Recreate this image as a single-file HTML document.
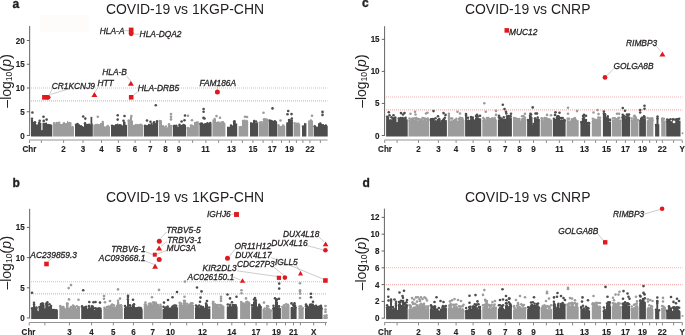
<!DOCTYPE html>
<html><head><meta charset="utf-8"><style>
html,body{margin:0;padding:0;background:#fff;width:685px;height:335px;overflow:hidden;}
svg{display:block;font-family:"Liberation Sans", sans-serif;will-change:transform;}
</style></head><body>
<svg width="685" height="335" viewBox="0 0 685 335">
<rect width="685" height="335" fill="#fff"/>
<rect x="39.7" y="15.2" width="49.3" height="16.4" fill="#fefbfb"/>
<line x1="29.66" y1="26" x2="29.66" y2="135.8" stroke="#5c5c5c" stroke-width="0.95" />
<line x1="26.86" y1="135.5" x2="29.66" y2="135.5" stroke="#5c5c5c" stroke-width="0.95" />
<text transform="translate(24.66,138.5) scale(0.84,1)" font-size="9.6" font-weight="bold" font-style="normal" text-anchor="end" fill="#231f20"  stroke="#231f20" stroke-width="0.15">0</text>
<line x1="26.86" y1="111.75" x2="29.66" y2="111.75" stroke="#5c5c5c" stroke-width="0.95" />
<text transform="translate(24.66,114.75) scale(0.84,1)" font-size="9.6" font-weight="bold" font-style="normal" text-anchor="end" fill="#231f20"  stroke="#231f20" stroke-width="0.15">5</text>
<line x1="26.86" y1="88" x2="29.66" y2="88" stroke="#5c5c5c" stroke-width="0.95" />
<text transform="translate(24.66,91) scale(0.84,1)" font-size="9.6" font-weight="bold" font-style="normal" text-anchor="end" fill="#231f20"  stroke="#231f20" stroke-width="0.15">10</text>
<line x1="26.86" y1="64.25" x2="29.66" y2="64.25" stroke="#5c5c5c" stroke-width="0.95" />
<text transform="translate(24.66,67.25) scale(0.84,1)" font-size="9.6" font-weight="bold" font-style="normal" text-anchor="end" fill="#231f20"  stroke="#231f20" stroke-width="0.15">15</text>
<line x1="26.86" y1="40.5" x2="29.66" y2="40.5" stroke="#5c5c5c" stroke-width="0.95" />
<text transform="translate(24.66,43.5) scale(0.84,1)" font-size="9.6" font-weight="bold" font-style="normal" text-anchor="end" fill="#231f20"  stroke="#231f20" stroke-width="0.15">20</text>
<line x1="29.3" y1="140" x2="327.5" y2="140" stroke="#939393" stroke-width="1.0" />
<line x1="29.5" y1="140.3" x2="29.5" y2="142.9" stroke="#7a7a7a" stroke-width="0.9" />
<line x1="41.4" y1="140.3" x2="41.4" y2="142.9" stroke="#7a7a7a" stroke-width="0.9" />
<line x1="63.6" y1="140.3" x2="63.6" y2="142.9" stroke="#7a7a7a" stroke-width="0.9" />
<line x1="83" y1="140.3" x2="83" y2="142.9" stroke="#7a7a7a" stroke-width="0.9" />
<line x1="101.5" y1="140.3" x2="101.5" y2="142.9" stroke="#7a7a7a" stroke-width="0.9" />
<line x1="118.4" y1="140.3" x2="118.4" y2="142.9" stroke="#7a7a7a" stroke-width="0.9" />
<line x1="135.1" y1="140.3" x2="135.1" y2="142.9" stroke="#7a7a7a" stroke-width="0.9" />
<line x1="150.3" y1="140.3" x2="150.3" y2="142.9" stroke="#7a7a7a" stroke-width="0.9" />
<line x1="165.5" y1="140.3" x2="165.5" y2="142.9" stroke="#7a7a7a" stroke-width="0.9" />
<line x1="179.1" y1="140.3" x2="179.1" y2="142.9" stroke="#7a7a7a" stroke-width="0.9" />
<line x1="192.6" y1="140.3" x2="192.6" y2="142.9" stroke="#7a7a7a" stroke-width="0.9" />
<line x1="205.9" y1="140.3" x2="205.9" y2="142.9" stroke="#7a7a7a" stroke-width="0.9" />
<line x1="218.6" y1="140.3" x2="218.6" y2="142.9" stroke="#7a7a7a" stroke-width="0.9" />
<line x1="231.4" y1="140.3" x2="231.4" y2="142.9" stroke="#7a7a7a" stroke-width="0.9" />
<line x1="242.4" y1="140.3" x2="242.4" y2="142.9" stroke="#7a7a7a" stroke-width="0.9" />
<line x1="252.9" y1="140.3" x2="252.9" y2="142.9" stroke="#7a7a7a" stroke-width="0.9" />
<line x1="263.1" y1="140.3" x2="263.1" y2="142.9" stroke="#7a7a7a" stroke-width="0.9" />
<line x1="272.2" y1="140.3" x2="272.2" y2="142.9" stroke="#7a7a7a" stroke-width="0.9" />
<line x1="281.5" y1="140.3" x2="281.5" y2="142.9" stroke="#7a7a7a" stroke-width="0.9" />
<line x1="289.4" y1="140.3" x2="289.4" y2="142.9" stroke="#7a7a7a" stroke-width="0.9" />
<line x1="296.4" y1="140.3" x2="296.4" y2="142.9" stroke="#7a7a7a" stroke-width="0.9" />
<line x1="302.9" y1="140.3" x2="302.9" y2="142.9" stroke="#7a7a7a" stroke-width="0.9" />
<line x1="309.9" y1="140.3" x2="309.9" y2="142.9" stroke="#7a7a7a" stroke-width="0.9" />
<line x1="320.4" y1="140.3" x2="320.4" y2="142.9" stroke="#7a7a7a" stroke-width="0.9" />
<text transform="translate(63.6,151.6) scale(0.84,1)" font-size="9.6" font-weight="bold" font-style="normal" text-anchor="middle" fill="#231f20"  stroke="#231f20" stroke-width="0.15">2</text>
<text transform="translate(83,151.6) scale(0.84,1)" font-size="9.6" font-weight="bold" font-style="normal" text-anchor="middle" fill="#231f20"  stroke="#231f20" stroke-width="0.15">3</text>
<text transform="translate(101.5,151.6) scale(0.84,1)" font-size="9.6" font-weight="bold" font-style="normal" text-anchor="middle" fill="#231f20"  stroke="#231f20" stroke-width="0.15">4</text>
<text transform="translate(118.4,151.6) scale(0.84,1)" font-size="9.6" font-weight="bold" font-style="normal" text-anchor="middle" fill="#231f20"  stroke="#231f20" stroke-width="0.15">5</text>
<text transform="translate(135.1,151.6) scale(0.84,1)" font-size="9.6" font-weight="bold" font-style="normal" text-anchor="middle" fill="#231f20"  stroke="#231f20" stroke-width="0.15">6</text>
<text transform="translate(150.3,151.6) scale(0.84,1)" font-size="9.6" font-weight="bold" font-style="normal" text-anchor="middle" fill="#231f20"  stroke="#231f20" stroke-width="0.15">7</text>
<text transform="translate(165.5,151.6) scale(0.84,1)" font-size="9.6" font-weight="bold" font-style="normal" text-anchor="middle" fill="#231f20"  stroke="#231f20" stroke-width="0.15">8</text>
<text transform="translate(179.1,151.6) scale(0.84,1)" font-size="9.6" font-weight="bold" font-style="normal" text-anchor="middle" fill="#231f20"  stroke="#231f20" stroke-width="0.15">9</text>
<text transform="translate(205.6,151.6) scale(0.84,1)" font-size="9.6" font-weight="bold" font-style="normal" text-anchor="middle" fill="#231f20"  stroke="#231f20" stroke-width="0.15">11</text>
<text transform="translate(231.4,151.6) scale(0.84,1)" font-size="9.6" font-weight="bold" font-style="normal" text-anchor="middle" fill="#231f20"  stroke="#231f20" stroke-width="0.15">13</text>
<text transform="translate(252.9,151.6) scale(0.84,1)" font-size="9.6" font-weight="bold" font-style="normal" text-anchor="middle" fill="#231f20"  stroke="#231f20" stroke-width="0.15">15</text>
<text transform="translate(272.2,151.6) scale(0.84,1)" font-size="9.6" font-weight="bold" font-style="normal" text-anchor="middle" fill="#231f20"  stroke="#231f20" stroke-width="0.15">17</text>
<text transform="translate(289.4,151.6) scale(0.84,1)" font-size="9.6" font-weight="bold" font-style="normal" text-anchor="middle" fill="#231f20"  stroke="#231f20" stroke-width="0.15">19</text>
<text transform="translate(309.9,151.6) scale(0.84,1)" font-size="9.6" font-weight="bold" font-style="normal" text-anchor="middle" fill="#231f20"  stroke="#231f20" stroke-width="0.15">22</text>
<text transform="translate(22.4,151.6) scale(0.84,1)" font-size="9.6" font-weight="bold" font-style="normal" text-anchor="start" fill="#231f20"  stroke="#231f20" stroke-width="0.15">Chr</text>
<line x1="31" y1="88" x2="327.5" y2="88" stroke="#f2b2b2" stroke-width="1.1" stroke-dasharray="1 1"/>
<line x1="31" y1="100.83" x2="327.5" y2="100.83" stroke="#f2b2b2" stroke-width="1.1" stroke-dasharray="1 1"/>
<text transform="translate(11,80.8) rotate(-90)" text-anchor="middle" font-size="14" fill="#231f20">&#8211;log<tspan font-size="8.5" dy="1">10</tspan><tspan dy="-1" font-size="15">(</tspan><tspan font-style="italic">p</tspan><tspan font-size="15">)</tspan></text>
<text transform="translate(185,13.6) scale(0.906,1)" font-size="15.4" font-weight="normal" font-style="normal" text-anchor="middle" fill="#231f20" >COVID-19 vs 1KGP-CHN</text>
<text transform="translate(12.6,8.1) scale(1,1)" font-size="12" font-weight="bold" font-style="normal" text-anchor="start" fill="#231f20" stroke="#231f20" stroke-width="0.35">a</text>
<path d="M31,136.6 L31,121.79 L31.75,121.69 L32.5,121.99 L33.25,121.64 L34,121.92 L34,122.42 L35,122.23 L36,122.5 L36,125.52 L37,125.76 L38,125.54 L38,122.55 L38.83,122.75 L39.65,123 L40.47,122.57 L41.3,122.63 L41.3,130.08 L41.9,130.27 L42.5,130.05 L42.5,122.74 L43.25,123.09 L44,122.53 L44.75,123.02 L45.5,122.67 L46.25,122.59 L47,122.57 L47,125.19 L47.76,125.49 L48.51,125.11 L49.27,125.35 L50.03,125.38 L50.79,125.22 L51.54,125.33 L52.3,125.04 L52.3,136.6Z" fill="#4d4d4d"/>
<g fill="#4d4d4d"><circle cx="32" cy="121.05" r="1.25"/><circle cx="35" cy="122.23" r="1.25"/><circle cx="37" cy="125.58" r="1.25"/><circle cx="39" cy="122.97" r="1.25"/><circle cx="48" cy="125.02" r="1.25"/><circle cx="49.15" cy="125.13" r="1.25"/><circle cx="50.82" cy="125.57" r="1.25"/><circle cx="48.99" cy="125.88" r="1.25"/></g>
<circle cx="32.4" cy="112.5" r="1.3" fill="#4d4d4d"/>
<circle cx="32" cy="118.8" r="1.3" fill="#4d4d4d"/>
<circle cx="43.5" cy="116.7" r="1.3" fill="#4d4d4d"/>
<circle cx="39.7" cy="120.7" r="1.3" fill="#4d4d4d"/>
<circle cx="46.6" cy="119.6" r="1.3" fill="#4d4d4d"/>
<circle cx="43.7" cy="120.9" r="1.3" fill="#4d4d4d"/>
<path d="M53.1,136.6 L53.1,123.76 L53.93,123.75 L54.75,123.67 L55.58,123.9 L56.4,123.97 L57.23,123.68 L58.05,123.8 L58.88,123.44 L59.7,123.82 L60.52,123.79 L61.35,124 L62.17,123.89 L63,123.57 L63,123.13 L63.8,123.3 L64.6,122.91 L65.4,123.18 L66.2,123 L67,122.97 L67,120.84 L68,121.26 L68,122.98 L69,123.05 L70,123.13 L70,122.42 L70.75,121.95 L71.5,122.17 L71.5,126.93 L72.33,127.13 L73.17,127.09 L74,127.12 L74,136.6Z" fill="#9c9c9c"/>
<g fill="#9c9c9c"><circle cx="54.1" cy="123.2" r="1.25"/><circle cx="56.61" cy="123.03" r="1.25"/><circle cx="57.84" cy="123.53" r="1.25"/><circle cx="59.11" cy="122.76" r="1.25"/><circle cx="58.18" cy="124.24" r="1.25"/><circle cx="64" cy="123.33" r="1.25"/><circle cx="69" cy="122.88" r="1.25"/><circle cx="72.5" cy="126.96" r="1.25"/></g>
<path d="M75,136.6 L75,124.63 L75.83,124.6 L76.67,124.7 L77.5,124.53 L78.33,124.5 L79.17,124.59 L80,124.56 L80,126.82 L80.8,126.62 L81.6,127.12 L82.4,126.97 L83.2,126.69 L84,126.75 L84,123.61 L84.8,123.62 L85.6,123.47 L86.4,123.91 L87.2,124 L88,123.68 L88,124.49 L88.83,124.25 L89.67,124.26 L90.5,124.41 L90.5,116.76 L91.4,117.1 L92.3,116.7 L92.3,123.21 L92.8,123.77 L92.8,136.6Z" fill="#4d4d4d"/>
<g fill="#4d4d4d"><circle cx="76" cy="124.7" r="1.25"/><circle cx="77.54" cy="123.89" r="1.25"/><circle cx="78.68" cy="125.38" r="1.25"/><circle cx="81" cy="126.37" r="1.25"/><circle cx="82.17" cy="127.19" r="1.25"/><circle cx="85" cy="123.28" r="1.25"/><circle cx="89" cy="124.86" r="1.25"/></g>
<circle cx="83.2" cy="116.5" r="1.3" fill="#4d4d4d"/>
<circle cx="85.3" cy="118.6" r="1.3" fill="#4d4d4d"/>
<path d="M93.3,136.6 L93.3,124.81 L94.14,124.71 L94.97,124.52 L95.81,124.52 L96.65,124.67 L97.49,124.66 L98.33,124.92 L99.16,125.07 L100,124.77 L100,122.96 L100.8,122.99 L101.6,122.97 L102.4,122.62 L103.2,122.53 L104,122.54 L104,126.22 L104.75,126.22 L105.5,126.47 L106.25,126.64 L107,126.6 L107.75,126.39 L108.5,126.49 L109.25,126.58 L110,126.15 L110,136.6Z" fill="#9c9c9c"/>
<g fill="#9c9c9c"><circle cx="96.08" cy="125.05" r="1.25"/><circle cx="97.26" cy="125.11" r="1.25"/><circle cx="98.98" cy="125.18" r="1.25"/><circle cx="102.72" cy="122.02" r="1.25"/><circle cx="107.8" cy="126.01" r="1.25"/><circle cx="107.11" cy="127.12" r="1.25"/></g>
<circle cx="97.8" cy="116.7" r="1.3" fill="#9c9c9c"/>
<path d="M111,136.6 L111,126.36 L111.8,126.62 L112.6,126.6 L113.4,126.23 L114.2,126.25 L115,126.28 L115,125.14 L116,125.35 L117,125.16 L117,123.65 L117.75,123.48 L118.5,123.95 L118.5,125.21 L119.25,125.27 L120,125.35 L120.75,125.54 L121.5,125.25 L122.25,125.55 L123,125.3 L123,121.72 L123.83,121.71 L124.67,121.41 L125.5,121.66 L125.5,124.81 L126.25,124.7 L127,125.18 L127,136.6Z" fill="#4d4d4d"/>
<g fill="#4d4d4d"><circle cx="112" cy="125.73" r="1.25"/><circle cx="113.73" cy="126.34" r="1.25"/><circle cx="116" cy="125.24" r="1.25"/><circle cx="119.5" cy="125.25" r="1.25"/><circle cx="120.78" cy="125.59" r="1.25"/></g>
<circle cx="117.7" cy="115.2" r="1.3" fill="#4d4d4d"/>
<circle cx="117.7" cy="119.6" r="1.3" fill="#4d4d4d"/>
<circle cx="124.5" cy="116" r="1.3" fill="#4d4d4d"/>
<circle cx="123.5" cy="120.7" r="1.3" fill="#4d4d4d"/>
<path d="M127.7,136.6 L127.7,120.17 L128.47,120.1 L129.23,120.11 L130,120.22 L130,117.97 L131,118.02 L132,117.99 L132,120.76 L133,120.62 L133,125.53 L133.79,125.57 L134.58,125.16 L135.38,125.34 L136.17,125.57 L136.96,125.5 L137.75,125.08 L138.55,125.07 L139.34,125.27 L140.13,125.04 L140.92,125.14 L141.72,125.04 L142.51,125.4 L143.3,125.47 L143.3,136.6Z" fill="#9c9c9c"/>
<g fill="#9c9c9c"><circle cx="128.7" cy="120.59" r="1.25"/><circle cx="131" cy="118.11" r="1.25"/><circle cx="134" cy="125.9" r="1.25"/><circle cx="135.95" cy="124.99" r="1.25"/><circle cx="137.94" cy="125.68" r="1.25"/><circle cx="139.37" cy="125.17" r="1.25"/><circle cx="140.57" cy="124.86" r="1.25"/><circle cx="141.59" cy="125.24" r="1.25"/><circle cx="136.71" cy="125.84" r="1.25"/><circle cx="138.25" cy="125.3" r="1.25"/></g>
<circle cx="131.4" cy="116" r="1.3" fill="#9c9c9c"/>
<path d="M144,136.6 L144,125.59 L144.8,125.47 L145.6,125.58 L146.4,125.06 L147.2,125.16 L148,125.02 L148,124.97 L148.83,124.66 L149.67,124.58 L150.5,124.75 L151.33,125.05 L152.17,124.99 L153,124.66 L153,122.79 L153.75,123.25 L154.5,123.04 L155.25,123.12 L156,122.75 L156,121.43 L156.7,121.81 L157.4,121.66 L158.1,121.44 L158.1,136.6Z" fill="#4d4d4d"/>
<g fill="#4d4d4d"><circle cx="145" cy="125.85" r="1.25"/><circle cx="149" cy="125.23" r="1.25"/><circle cx="151.61" cy="124.06" r="1.25"/><circle cx="149.23" cy="124.95" r="1.25"/><circle cx="154" cy="122.13" r="1.25"/><circle cx="157" cy="121.24" r="1.25"/></g>
<circle cx="147" cy="120.5" r="1.3" fill="#4d4d4d"/>
<circle cx="150.5" cy="121.7" r="1.3" fill="#4d4d4d"/>
<circle cx="155.8" cy="105.2" r="1.3" fill="#4d4d4d"/>
<path d="M158.9,136.6 L158.9,120.6 L159.68,120.41 L160.45,120.51 L161.22,120.31 L162,120.45 L162,126.31 L162.75,126.74 L163.5,126.63 L164.25,126.41 L165,126.58 L165,127.46 L165.75,126.96 L166.5,127.39 L167.25,127.16 L168,127.2 L168,125 L168.84,124.74 L169.68,124.8 L170.52,124.91 L171.36,125.09 L172.2,124.71 L172.2,136.6Z" fill="#9c9c9c"/>
<g fill="#9c9c9c"><circle cx="159.9" cy="120.98" r="1.25"/><circle cx="163" cy="126.3" r="1.25"/><circle cx="166" cy="126.46" r="1.25"/><circle cx="169" cy="124.26" r="1.25"/></g>
<circle cx="171" cy="114.1" r="1.3" fill="#9c9c9c"/>
<circle cx="171" cy="116.7" r="1.3" fill="#9c9c9c"/>
<circle cx="171" cy="119.4" r="1.3" fill="#9c9c9c"/>
<path d="M172.9,136.6 L172.9,126.47 L173.7,126.45 L174.5,126.48 L175.3,126.58 L176.1,126.39 L176.9,126.57 L177.7,126.46 L178.5,126.88 L178.5,125.08 L179.33,124.83 L180.17,124.65 L181,125.08 L181.83,124.69 L182.67,124.71 L183.5,124.5 L184.33,124.73 L185.17,124.78 L186,124.8 L186,136.6Z" fill="#4d4d4d"/>
<g fill="#4d4d4d"><circle cx="173.9" cy="125.97" r="1.25"/><circle cx="174.9" cy="126.07" r="1.25"/><circle cx="176.3" cy="125.72" r="1.25"/><circle cx="174.67" cy="127.12" r="1.25"/><circle cx="179.5" cy="124.7" r="1.25"/><circle cx="183.7" cy="125.01" r="1.25"/><circle cx="183.59" cy="125.45" r="1.25"/></g>
<circle cx="185" cy="115.5" r="1.3" fill="#4d4d4d"/>
<circle cx="184.5" cy="120.3" r="1.3" fill="#4d4d4d"/>
<circle cx="181.6" cy="121.5" r="1.3" fill="#4d4d4d"/>
<circle cx="188" cy="115.8" r="1.3" fill="#9c9c9c"/>
<path d="M186.7,136.6 L186.7,127.58 L187.52,127.81 L188.35,127.8 L189.18,128 L190,127.98 L190,125.7 L190.8,125.55 L191.6,125.74 L192.4,125.61 L193.2,125.62 L194,125.34 L194,123.22 L195,123.28 L196,123.42 L196,120.96 L196.7,121.4 L197.4,121.24 L198.1,121.28 L198.8,121.28 L198.8,136.6Z" fill="#9c9c9c"/>
<g fill="#9c9c9c"><circle cx="187.7" cy="127.94" r="1.25"/><circle cx="188.7" cy="128.13" r="1.25"/><circle cx="191" cy="125.41" r="1.25"/><circle cx="192.07" cy="125.73" r="1.25"/><circle cx="195" cy="122.97" r="1.25"/></g>
<circle cx="192" cy="120.3" r="1.3" fill="#9c9c9c"/>
<path d="M199.5,136.6 L199.5,123.53 L200.31,123.59 L201.11,123.71 L201.92,123.76 L202.73,123.67 L203.53,123.69 L204.34,123.35 L205.15,123.39 L205.95,123.45 L206.76,123.75 L207.57,123.48 L208.37,123.64 L209.18,123.31 L209.99,123.34 L210.79,123.46 L211.6,123.7 L211.6,136.6Z" fill="#4d4d4d"/>
<g fill="#4d4d4d"><circle cx="200.5" cy="123.76" r="1.25"/><circle cx="201.79" cy="123.48" r="1.25"/><circle cx="207.44" cy="123.37" r="1.25"/><circle cx="208.65" cy="124.16" r="1.25"/><circle cx="210.23" cy="122.88" r="1.25"/><circle cx="201.75" cy="124.26" r="1.25"/><circle cx="205.64" cy="124.29" r="1.25"/></g>
<circle cx="203.6" cy="109" r="1.3" fill="#4d4d4d"/>
<circle cx="203.6" cy="111.7" r="1.3" fill="#4d4d4d"/>
<circle cx="203.5" cy="117.9" r="1.3" fill="#4d4d4d"/>
<circle cx="204.5" cy="118.5" r="1.3" fill="#4d4d4d"/>
<path d="M212.4,136.6 L212.4,119.52 L213.3,119.24 L214.2,119.64 L215.1,119.39 L216,119.11 L216,122.7 L216.78,123 L217.57,122.97 L218.35,122.88 L219.13,122.78 L219.92,122.91 L220.7,122.89 L221.48,123.2 L222.27,122.7 L223.05,123.15 L223.83,123.2 L224.62,122.77 L225.4,123.26 L225.4,136.6Z" fill="#9c9c9c"/>
<g fill="#9c9c9c"><circle cx="214.69" cy="119.05" r="1.25"/><circle cx="217" cy="122.99" r="1.25"/><circle cx="218.43" cy="122.49" r="1.25"/><circle cx="219.53" cy="123.39" r="1.25"/><circle cx="221.47" cy="122.45" r="1.25"/><circle cx="222.98" cy="122.35" r="1.25"/><circle cx="223.64" cy="123.65" r="1.25"/></g>
<circle cx="216.5" cy="116.1" r="1.3" fill="#9c9c9c"/>
<circle cx="220" cy="117.7" r="1.3" fill="#9c9c9c"/>
<path d="M227,136.6 L227,126.68 L227.75,126.85 L228.5,126.86 L229.25,126.63 L230,126.73 L230,125.13 L230.75,125.54 L231.5,125.37 L232.25,125.55 L233,125.49 L233,122.27 L233.75,122.13 L234.5,122.66 L235.25,122.18 L236,122.38 L236,123.51 L237.2,123.48 L237.2,136.6Z" fill="#4d4d4d"/>
<g fill="#4d4d4d"><circle cx="231" cy="125.5" r="1.25"/><circle cx="234" cy="122.08" r="1.25"/></g>
<circle cx="234.5" cy="121.3" r="1.3" fill="#4d4d4d"/>
<path d="M238.6,136.6 L238.6,125.82 L239.45,126.24 L240.3,126 L241.15,125.83 L242,126.24 L242,121.5 L242.78,121.17 L243.55,120.98 L244.32,121.02 L245.1,120.95 L245.88,121.11 L246.65,120.95 L247.42,121.04 L248.2,121.06 L248.2,136.6Z" fill="#9c9c9c"/>
<g fill="#9c9c9c"><circle cx="243" cy="120.91" r="1.25"/><circle cx="244.52" cy="120.85" r="1.25"/><circle cx="246.71" cy="121.06" r="1.25"/><circle cx="243.84" cy="121.47" r="1.25"/></g>
<circle cx="245" cy="116.7" r="1.3" fill="#9c9c9c"/>
<circle cx="247" cy="117" r="1.3" fill="#9c9c9c"/>
<path d="M250,136.6 L250,122.25 L250.75,122.34 L251.5,122.37 L252.25,122.67 L253,122.61 L253,120.22 L254,119.71 L255,119.72 L255,122.53 L255.8,122.64 L256.6,122.38 L257.4,122.45 L258.2,122.1 L258.2,136.6Z" fill="#4d4d4d"/>
<g fill="#4d4d4d"><circle cx="256" cy="121.62" r="1.25"/></g>
<path d="M259,136.6 L259,123.11 L259.8,123.26 L260.6,123.13 L261.4,123.09 L262.2,123.16 L263,122.97 L263,119.23 L263.76,118.92 L264.51,119.37 L265.27,119.04 L266.03,119.45 L266.79,119.29 L267.54,119.08 L268.3,118.98 L268.3,136.6Z" fill="#9c9c9c"/>
<g fill="#9c9c9c"><circle cx="260" cy="122.45" r="1.25"/><circle cx="261.7" cy="122.23" r="1.25"/><circle cx="264" cy="119.18" r="1.25"/><circle cx="265.22" cy="119.21" r="1.25"/><circle cx="267.01" cy="119.64" r="1.25"/></g>
<circle cx="263.5" cy="112.8" r="1.3" fill="#9c9c9c"/>
<path d="M268.7,136.6 L268.7,121.04 L269.46,121.05 L270.23,121.48 L270.99,121.32 L271.75,121.08 L272.52,120.91 L273.28,121.2 L274.05,121.3 L274.81,121.15 L275.57,121.05 L276.34,121.3 L277.1,121.46 L277.1,136.6Z" fill="#4d4d4d"/>
<g fill="#4d4d4d"><circle cx="269.7" cy="120.61" r="1.25"/><circle cx="271.04" cy="120.92" r="1.25"/><circle cx="272.24" cy="121.53" r="1.25"/><circle cx="275.05" cy="121.56" r="1.25"/><circle cx="274.63" cy="121.49" r="1.25"/></g>
<circle cx="272.5" cy="108.4" r="1.3" fill="#4d4d4d"/>
<path d="M277.4,136.6 L277.4,126.27 L278.19,126 L278.98,125.81 L279.77,125.83 L280.56,125.95 L281.35,126.1 L282.14,126.27 L282.93,125.79 L283.72,125.94 L284.51,125.83 L285.3,126.28 L285.3,136.6Z" fill="#9c9c9c"/>
<g fill="#9c9c9c"><circle cx="278.4" cy="125.28" r="1.25"/><circle cx="283.28" cy="125.58" r="1.25"/><circle cx="282.86" cy="125.93" r="1.25"/></g>
<circle cx="280.5" cy="120.5" r="1.3" fill="#9c9c9c"/>
<path d="M286.2,136.6 L286.2,122.5 L287.1,122.33 L288,122.32 L288,119.3 L288.82,119.2 L289.63,119.1 L290.45,119.27 L291.27,119.31 L292.08,119.67 L292.9,119.17 L292.9,136.6Z" fill="#4d4d4d"/>
<g fill="#4d4d4d"><circle cx="289" cy="119.99" r="1.25"/><circle cx="291.79" cy="118.53" r="1.25"/></g>
<circle cx="288.2" cy="111" r="1.3" fill="#4d4d4d"/>
<circle cx="287.5" cy="114.3" r="1.3" fill="#4d4d4d"/>
<circle cx="291.5" cy="114.1" r="1.3" fill="#4d4d4d"/>
<path d="M293.6,136.6 L293.6,124.45 L294.43,124.02 L295.25,124.12 L296.07,124.44 L296.9,123.92 L297.73,124.15 L298.55,124.39 L299.38,124.36 L300.2,123.92 L300.2,136.6Z" fill="#9c9c9c"/>
<g fill="#9c9c9c"><circle cx="294.6" cy="123.31" r="1.25"/><circle cx="296.52" cy="123.66" r="1.25"/><circle cx="298.42" cy="123.79" r="1.25"/><circle cx="297.47" cy="124.46" r="1.25"/></g>
<path d="M302,136.6 L302,126.13 L303,125.89 L304,125.87 L304,122.7 L304.8,123.15 L305.6,123.25 L306.4,123.08 L306.4,136.6Z" fill="#4d4d4d"/>
<g fill="#4d4d4d"><circle cx="303" cy="126.56" r="1.25"/></g>
<path d="M308.1,136.6 L308.1,120.53 L308.92,120.45 L309.73,120.56 L310.55,120.6 L311.37,120.86 L312.18,120.41 L313,120.78 L313,136.6Z" fill="#9c9c9c"/>
<g fill="#9c9c9c"><circle cx="310.87" cy="120.62" r="1.25"/></g>
<circle cx="312" cy="115.8" r="1.3" fill="#9c9c9c"/>
<path d="M313.7,136.6 L313.7,126.52 L314.56,126.77 L315.42,126.35 L316.28,126.42 L317.14,126.75 L318,126.45 L318,123.34 L318.8,123.32 L319.6,123.63 L320.4,123.5 L321.2,123.89 L322,123.83 L322,126.29 L322.81,125.86 L323.63,125.75 L324.44,125.76 L325.26,126 L326.07,126.13 L326.89,125.97 L327.7,125.84 L327.7,136.6Z" fill="#4d4d4d"/>
<g fill="#4d4d4d"><circle cx="314.7" cy="126.32" r="1.25"/><circle cx="320.29" cy="123.56" r="1.25"/><circle cx="323" cy="125.37" r="1.25"/><circle cx="325.82" cy="125.57" r="1.25"/><circle cx="324.88" cy="126.23" r="1.25"/></g>
<circle cx="322.5" cy="111.9" r="1.3" fill="#4d4d4d"/>
<circle cx="322.5" cy="114.9" r="1.3" fill="#4d4d4d"/>
<rect x="128.8" y="27.6" width="4.7" height="6.2" fill="#e1191f"/>
<circle cx="131.15" cy="33.7" r="2.45" fill="#e1191f"/>
<line x1="124.6" y1="30.8" x2="129" y2="30.6" stroke="#999" stroke-width="0.5" />
<line x1="133.5" y1="34.2" x2="139.6" y2="34.2" stroke="#999" stroke-width="0.5" />
<rect x="42.1" y="95" width="6.2" height="4.7" fill="#e1191f"/>
<circle cx="48.2" cy="97.35" r="2.35" fill="#e1191f"/>
<line x1="49.2" y1="94.9" x2="52.3" y2="88.9" stroke="#999" stroke-width="0.5" />
<line x1="50.6" y1="94.4" x2="70" y2="88.6" stroke="#999" stroke-width="0.5" />
<path d="M91.4,97 L97.4,97 L94.4,92Z" fill="#e1191f"/>
<line x1="95" y1="92" x2="98.6" y2="86.4" stroke="#999" stroke-width="0.5" />
<path d="M127.9,85.7 L133.9,85.7 L130.9,80.7Z" fill="#e1191f"/>
<line x1="126.3" y1="75.6" x2="130.6" y2="80.9" stroke="#999" stroke-width="0.5" />
<rect x="128.9" y="95" width="4.6" height="4.6" fill="#e1191f"/>
<line x1="133.5" y1="95" x2="139.6" y2="90.6" stroke="#999" stroke-width="0.5" />
<circle cx="217.4" cy="91.9" r="2.5" fill="#e1191f"/>
<line x1="217.4" y1="89.4" x2="217.4" y2="86.6" stroke="#999" stroke-width="0.5" />
<text transform="translate(99.8,34.4) scale(0.875,1)" font-size="9.6" font-weight="normal" font-style="italic" text-anchor="start" fill="#231f20"  stroke="#231f20" stroke-width="0.3">HLA-A</text>
<text transform="translate(139.6,37) scale(0.875,1)" font-size="9.6" font-weight="normal" font-style="italic" text-anchor="start" fill="#231f20"  stroke="#231f20" stroke-width="0.3">HLA-DQA2</text>
<text transform="translate(51.7,89.1) scale(0.875,1)" font-size="9.6" font-weight="normal" font-style="italic" text-anchor="start" fill="#231f20"  stroke="#231f20" stroke-width="0.3">CR1KCNJ9</text>
<text transform="translate(97.4,86.2) scale(0.875,1)" font-size="9.6" font-weight="normal" font-style="italic" text-anchor="start" fill="#231f20"  stroke="#231f20" stroke-width="0.3">HTT</text>
<text transform="translate(102.2,75.4) scale(0.875,1)" font-size="9.6" font-weight="normal" font-style="italic" text-anchor="start" fill="#231f20"  stroke="#231f20" stroke-width="0.3">HLA-B</text>
<text transform="translate(137.8,90.6) scale(0.875,1)" font-size="9.6" font-weight="normal" font-style="italic" text-anchor="start" fill="#231f20"  stroke="#231f20" stroke-width="0.3">HLA-DRB5</text>
<text transform="translate(199.4,86.3) scale(0.875,1)" font-size="9.6" font-weight="normal" font-style="italic" text-anchor="start" fill="#231f20"  stroke="#231f20" stroke-width="0.3">FAM186A</text>
<line x1="29.66" y1="208.8" x2="29.66" y2="318.3" stroke="#5c5c5c" stroke-width="0.95" />
<line x1="26.86" y1="318" x2="29.66" y2="318" stroke="#5c5c5c" stroke-width="0.95" />
<text transform="translate(24.66,321) scale(0.84,1)" font-size="9.6" font-weight="bold" font-style="normal" text-anchor="end" fill="#231f20"  stroke="#231f20" stroke-width="0.15">0</text>
<line x1="26.86" y1="287.8" x2="29.66" y2="287.8" stroke="#5c5c5c" stroke-width="0.95" />
<text transform="translate(24.66,290.8) scale(0.84,1)" font-size="9.6" font-weight="bold" font-style="normal" text-anchor="end" fill="#231f20"  stroke="#231f20" stroke-width="0.15">5</text>
<line x1="26.86" y1="257.6" x2="29.66" y2="257.6" stroke="#5c5c5c" stroke-width="0.95" />
<text transform="translate(24.66,260.6) scale(0.84,1)" font-size="9.6" font-weight="bold" font-style="normal" text-anchor="end" fill="#231f20"  stroke="#231f20" stroke-width="0.15">10</text>
<line x1="26.86" y1="227.4" x2="29.66" y2="227.4" stroke="#5c5c5c" stroke-width="0.95" />
<text transform="translate(24.66,230.4) scale(0.84,1)" font-size="9.6" font-weight="bold" font-style="normal" text-anchor="end" fill="#231f20"  stroke="#231f20" stroke-width="0.15">15</text>
<line x1="29.3" y1="322.5" x2="327" y2="322.5" stroke="#939393" stroke-width="1.0" />
<line x1="29.2" y1="322.8" x2="29.2" y2="325.4" stroke="#7a7a7a" stroke-width="0.9" />
<line x1="44.9" y1="322.8" x2="44.9" y2="325.4" stroke="#7a7a7a" stroke-width="0.9" />
<line x1="69.4" y1="322.8" x2="69.4" y2="325.4" stroke="#7a7a7a" stroke-width="0.9" />
<line x1="91.6" y1="322.8" x2="91.6" y2="325.4" stroke="#7a7a7a" stroke-width="0.9" />
<line x1="113.3" y1="322.8" x2="113.3" y2="325.4" stroke="#7a7a7a" stroke-width="0.9" />
<line x1="133.4" y1="322.8" x2="133.4" y2="325.4" stroke="#7a7a7a" stroke-width="0.9" />
<line x1="152.7" y1="322.8" x2="152.7" y2="325.4" stroke="#7a7a7a" stroke-width="0.9" />
<line x1="170.4" y1="322.8" x2="170.4" y2="325.4" stroke="#7a7a7a" stroke-width="0.9" />
<line x1="186.7" y1="322.8" x2="186.7" y2="325.4" stroke="#7a7a7a" stroke-width="0.9" />
<line x1="202.6" y1="322.8" x2="202.6" y2="325.4" stroke="#7a7a7a" stroke-width="0.9" />
<line x1="217.6" y1="322.8" x2="217.6" y2="325.4" stroke="#7a7a7a" stroke-width="0.9" />
<line x1="231.8" y1="322.8" x2="231.8" y2="325.4" stroke="#7a7a7a" stroke-width="0.9" />
<line x1="244.7" y1="322.8" x2="244.7" y2="325.4" stroke="#7a7a7a" stroke-width="0.9" />
<line x1="256.1" y1="322.8" x2="256.1" y2="325.4" stroke="#7a7a7a" stroke-width="0.9" />
<line x1="267" y1="322.8" x2="267" y2="325.4" stroke="#7a7a7a" stroke-width="0.9" />
<line x1="276.5" y1="322.8" x2="276.5" y2="325.4" stroke="#7a7a7a" stroke-width="0.9" />
<line x1="285.5" y1="322.8" x2="285.5" y2="325.4" stroke="#7a7a7a" stroke-width="0.9" />
<line x1="293.5" y1="322.8" x2="293.5" y2="325.4" stroke="#7a7a7a" stroke-width="0.9" />
<line x1="300.4" y1="322.8" x2="300.4" y2="325.4" stroke="#7a7a7a" stroke-width="0.9" />
<line x1="313.7" y1="322.8" x2="313.7" y2="325.4" stroke="#7a7a7a" stroke-width="0.9" />
<line x1="325.5" y1="322.8" x2="325.5" y2="325.4" stroke="#7a7a7a" stroke-width="0.9" />
<text transform="translate(69.4,335) scale(0.84,1)" font-size="9.6" font-weight="bold" font-style="normal" text-anchor="middle" fill="#231f20"  stroke="#231f20" stroke-width="0.15">3</text>
<text transform="translate(91.6,335) scale(0.84,1)" font-size="9.6" font-weight="bold" font-style="normal" text-anchor="middle" fill="#231f20"  stroke="#231f20" stroke-width="0.15">4</text>
<text transform="translate(113.3,335) scale(0.84,1)" font-size="9.6" font-weight="bold" font-style="normal" text-anchor="middle" fill="#231f20"  stroke="#231f20" stroke-width="0.15">5</text>
<text transform="translate(133.4,335) scale(0.84,1)" font-size="9.6" font-weight="bold" font-style="normal" text-anchor="middle" fill="#231f20"  stroke="#231f20" stroke-width="0.15">6</text>
<text transform="translate(152.7,335) scale(0.84,1)" font-size="9.6" font-weight="bold" font-style="normal" text-anchor="middle" fill="#231f20"  stroke="#231f20" stroke-width="0.15">7</text>
<text transform="translate(170.4,335) scale(0.84,1)" font-size="9.6" font-weight="bold" font-style="normal" text-anchor="middle" fill="#231f20"  stroke="#231f20" stroke-width="0.15">10</text>
<text transform="translate(202.6,335) scale(0.84,1)" font-size="9.6" font-weight="bold" font-style="normal" text-anchor="middle" fill="#231f20"  stroke="#231f20" stroke-width="0.15">12</text>
<text transform="translate(231.8,335) scale(0.84,1)" font-size="9.6" font-weight="bold" font-style="normal" text-anchor="middle" fill="#231f20"  stroke="#231f20" stroke-width="0.15">14</text>
<text transform="translate(256.1,335) scale(0.84,1)" font-size="9.6" font-weight="bold" font-style="normal" text-anchor="middle" fill="#231f20"  stroke="#231f20" stroke-width="0.15">17</text>
<text transform="translate(276.5,335) scale(0.84,1)" font-size="9.6" font-weight="bold" font-style="normal" text-anchor="middle" fill="#231f20"  stroke="#231f20" stroke-width="0.15">19</text>
<text transform="translate(293.5,335) scale(0.84,1)" font-size="9.6" font-weight="bold" font-style="normal" text-anchor="middle" fill="#231f20"  stroke="#231f20" stroke-width="0.15">21</text>
<text transform="translate(313.7,335) scale(0.84,1)" font-size="9.6" font-weight="bold" font-style="normal" text-anchor="middle" fill="#231f20"  stroke="#231f20" stroke-width="0.15">X</text>
<text transform="translate(21.6,335) scale(0.84,1)" font-size="9.6" font-weight="bold" font-style="normal" text-anchor="start" fill="#231f20"  stroke="#231f20" stroke-width="0.15">Chr</text>
<line x1="31" y1="281.76" x2="327" y2="281.76" stroke="#f2b2b2" stroke-width="1.1" stroke-dasharray="1 1"/>
<line x1="31" y1="293.84" x2="327" y2="293.84" stroke="#f2b2b2" stroke-width="1.1" stroke-dasharray="1 1"/>
<text transform="translate(11,262.7) rotate(-90)" text-anchor="middle" font-size="14" fill="#231f20">&#8211;log<tspan font-size="8.5" dy="1">10</tspan><tspan dy="-1" font-size="15">(</tspan><tspan font-style="italic">p</tspan><tspan font-size="15">)</tspan></text>
<text transform="translate(185,202.1) scale(0.906,1)" font-size="15.4" font-weight="normal" font-style="normal" text-anchor="middle" fill="#231f20" >COVID-19 vs 1KGP-CHN</text>
<text transform="translate(12.6,187.2) scale(1,1)" font-size="12" font-weight="bold" font-style="normal" text-anchor="start" fill="#231f20" stroke="#231f20" stroke-width="0.35">b</text>
<path d="M31.2,319.1 L31.2,308.19 L32.1,308.09 L33,308.29 L33,304.76 L33.73,304.98 L34.47,305.19 L35.2,305.2 L35.2,308.05 L35.97,307.52 L36.73,307.68 L37.5,307.57 L37.5,310.81 L38.6,311.28 L38.6,306.55 L39.3,306.76 L40,306.42 L40,305.02 L40.77,304.77 L41.53,304.66 L42.3,304.97 L43.07,305.07 L43.83,304.56 L44.6,304.86 L44.6,308.57 L45.3,308.33 L45.3,303.72 L46.1,303.58 L46.9,303.62 L47.7,303.65 L48.5,303.86 L48.5,306.69 L49.38,306.42 L50.25,306.31 L51.12,306.5 L52,306.71 L52,310.71 L52.84,310.79 L53.69,310.72 L54.53,311.08 L55.37,310.93 L56.21,310.64 L57.06,310.66 L57.9,310.84 L57.9,319.1Z" fill="#4d4d4d"/>
<g fill="#4d4d4d"><circle cx="32.1" cy="308.25" r="1.25"/><circle cx="34" cy="302.7" r="1.25"/><circle cx="34.06" cy="304.58" r="1.25"/><circle cx="36.39" cy="307.54" r="1.25"/><circle cx="39.48" cy="307.07" r="1.25"/><circle cx="41" cy="303.94" r="1.25"/><circle cx="42.2" cy="303.51" r="1.25"/><circle cx="43.2" cy="303.79" r="1.25"/><circle cx="42.03" cy="305.4" r="1.25"/><circle cx="42.19" cy="304.06" r="1.25"/><circle cx="40.92" cy="304.91" r="1.25"/><circle cx="47.39" cy="302.35" r="1.25"/><circle cx="46.39" cy="303.38" r="1.25"/><circle cx="46.93" cy="304.46" r="1.25"/><circle cx="49.5" cy="304.32" r="1.25"/><circle cx="51.07" cy="305.96" r="1.25"/><circle cx="49.6" cy="307.28" r="1.25"/><circle cx="53" cy="310.01" r="1.25"/><circle cx="54.05" cy="309.93" r="1.25"/><circle cx="56.14" cy="310.33" r="1.25"/><circle cx="54.55" cy="311.45" r="1.25"/><circle cx="56.32" cy="310.22" r="1.25"/><circle cx="53.78" cy="310.73" r="1.25"/></g>
<circle cx="32" cy="292.8" r="1.3" fill="#4d4d4d"/>
<path d="M59.3,319.1 L59.3,306.81 L60.15,306.73 L61,306.57 L61,308.55 L61.83,308.83 L62.67,308.94 L63.5,308.42 L64.33,308.74 L65.17,308.85 L66,308.42 L66,303.2 L66.83,302.77 L67.67,303.06 L68.5,303.03 L68.5,308.18 L69.38,307.98 L70.25,308.05 L71.12,308.15 L72,308.06 L72,307.6 L72.8,307.47 L73.6,307.46 L74.4,307.21 L75.2,307.57 L76,307.49 L76,307.94 L76.8,308.26 L77.6,308.27 L78.4,308.07 L79.2,307.91 L80,308.08 L80,319.1Z" fill="#9c9c9c"/>
<g fill="#9c9c9c"><circle cx="60.17" cy="305.95" r="1.25"/><circle cx="62" cy="306.94" r="1.25"/><circle cx="63.44" cy="307.07" r="1.25"/><circle cx="62.14" cy="309.09" r="1.25"/><circle cx="64.4" cy="308.74" r="1.25"/><circle cx="62.05" cy="308.72" r="1.25"/><circle cx="63.1" cy="309.39" r="1.25"/><circle cx="67.42" cy="303.51" r="1.25"/><circle cx="67.02" cy="303.73" r="1.25"/><circle cx="69.66" cy="308.57" r="1.25"/><circle cx="71" cy="306.99" r="1.25"/><circle cx="73" cy="305.61" r="1.25"/><circle cx="74.16" cy="306.48" r="1.25"/><circle cx="73.2" cy="307.52" r="1.25"/><circle cx="74.94" cy="306.89" r="1.25"/><circle cx="73.47" cy="307.53" r="1.25"/><circle cx="77" cy="306.16" r="1.25"/><circle cx="78.89" cy="307.38" r="1.25"/><circle cx="78.64" cy="307.2" r="1.25"/><circle cx="78.07" cy="308.34" r="1.25"/></g>
<circle cx="69" cy="299.4" r="1.3" fill="#9c9c9c"/>
<circle cx="78.5" cy="299.7" r="1.3" fill="#9c9c9c"/>
<circle cx="68.7" cy="288.1" r="1.3" fill="#9c9c9c"/>
<circle cx="71" cy="285.1" r="1.3" fill="#9c9c9c"/>
<path d="M81.2,319.1 L81.2,306.12 L82.1,306.42 L83,306.23 L83,308.75 L83.83,308.93 L84.67,308.46 L85.5,309 L86.33,308.78 L87.17,308.64 L88,308.88 L88,307.96 L88.75,308.39 L89.5,308.15 L90.25,308.02 L91,308.26 L91.75,308.07 L92.5,307.91 L93.25,308.25 L94,307.83 L94,310.19 L94.78,309.85 L95.56,310.08 L96.34,310.29 L97.12,310.05 L97.9,310.1 L98.68,309.89 L99.46,309.7 L100.24,309.72 L101.02,309.79 L101.8,310.07 L101.8,319.1Z" fill="#4d4d4d"/>
<g fill="#4d4d4d"><circle cx="82.1" cy="306.24" r="1.25"/><circle cx="84" cy="307.68" r="1.25"/><circle cx="85.23" cy="307.29" r="1.25"/><circle cx="86.23" cy="306.82" r="1.25"/><circle cx="84.6" cy="308.86" r="1.25"/><circle cx="85.79" cy="308.08" r="1.25"/><circle cx="85.9" cy="308.67" r="1.25"/><circle cx="84.31" cy="309.37" r="1.25"/><circle cx="89" cy="306.04" r="1.25"/><circle cx="91.88" cy="306.29" r="1.25"/><circle cx="92.89" cy="306.68" r="1.25"/><circle cx="91.62" cy="308.02" r="1.25"/><circle cx="92.86" cy="308.49" r="1.25"/><circle cx="89.93" cy="308.73" r="1.25"/><circle cx="89.06" cy="308.17" r="1.25"/><circle cx="95" cy="308.2" r="1.25"/><circle cx="96.06" cy="308.8" r="1.25"/><circle cx="97.61" cy="309.06" r="1.25"/><circle cx="98.81" cy="308.52" r="1.25"/><circle cx="100.45" cy="308.85" r="1.25"/><circle cx="96.69" cy="308.8" r="1.25"/><circle cx="100.26" cy="310.46" r="1.25"/><circle cx="99.2" cy="308.45" r="1.25"/><circle cx="99.98" cy="310.41" r="1.25"/><circle cx="97.69" cy="310.4" r="1.25"/><circle cx="97.61" cy="309.44" r="1.25"/></g>
<circle cx="83.2" cy="290.3" r="1.3" fill="#4d4d4d"/>
<circle cx="89.3" cy="302" r="1.3" fill="#4d4d4d"/>
<circle cx="93.5" cy="302.3" r="1.3" fill="#4d4d4d"/>
<circle cx="95.5" cy="302" r="1.3" fill="#4d4d4d"/>
<circle cx="100" cy="302.6" r="1.3" fill="#4d4d4d"/>
<path d="M103.4,319.1 L103.4,309.06 L104.27,309.14 L105.13,309.02 L106,309.2 L106,308.25 L106.8,308.22 L107.6,308.31 L108.4,308.23 L109.2,307.96 L110,308.13 L110,306.76 L110.75,306.97 L111.5,306.81 L112.25,306.66 L113,306.89 L113.75,307.08 L114.5,306.63 L115.25,307.03 L116,306.51 L116,304.86 L116.8,304.84 L117.6,305.15 L118.4,305.27 L119.2,305.15 L120,304.9 L120,307.73 L120.93,307.4 L121.87,307.34 L122.8,307.74 L122.8,319.1Z" fill="#9c9c9c"/>
<g fill="#9c9c9c"><circle cx="104.4" cy="307.86" r="1.25"/><circle cx="105.11" cy="309.26" r="1.25"/><circle cx="104.99" cy="309.64" r="1.25"/><circle cx="107" cy="307.02" r="1.25"/><circle cx="108.72" cy="306.56" r="1.25"/><circle cx="108.28" cy="307.05" r="1.25"/><circle cx="108.92" cy="307.3" r="1.25"/><circle cx="106.94" cy="307.17" r="1.25"/><circle cx="111" cy="305.84" r="1.25"/><circle cx="112.14" cy="304.4" r="1.25"/><circle cx="113.83" cy="305.36" r="1.25"/><circle cx="111.15" cy="306.97" r="1.25"/><circle cx="112.42" cy="307.31" r="1.25"/><circle cx="114.36" cy="307.41" r="1.25"/><circle cx="111.16" cy="307.38" r="1.25"/><circle cx="118.11" cy="302.88" r="1.25"/><circle cx="118.78" cy="305.5" r="1.25"/><circle cx="118.3" cy="305.52" r="1.25"/><circle cx="118.3" cy="304.59" r="1.25"/><circle cx="121" cy="305.21" r="1.25"/><circle cx="121.09" cy="307.16" r="1.25"/><circle cx="121.32" cy="306.11" r="1.25"/></g>
<circle cx="104" cy="296" r="1.3" fill="#9c9c9c"/>
<circle cx="104" cy="298.8" r="1.3" fill="#9c9c9c"/>
<circle cx="105" cy="302.3" r="1.3" fill="#9c9c9c"/>
<circle cx="110" cy="301" r="1.3" fill="#9c9c9c"/>
<circle cx="118" cy="300.7" r="1.3" fill="#9c9c9c"/>
<circle cx="120" cy="298.6" r="1.3" fill="#9c9c9c"/>
<circle cx="118" cy="289.4" r="1.3" fill="#9c9c9c"/>
<path d="M124,319.1 L124,307.95 L124.75,307.97 L125.5,308.23 L126.25,308.02 L127,307.99 L127,299.28 L128,299 L129,299.21 L129,307.57 L129.75,307.22 L130.5,307.45 L131.25,307.46 L132,307.66 L132,305.51 L132.75,305.72 L133.5,305.62 L134.25,305.43 L135,305.82 L135,309.05 L135.77,309.49 L136.54,309.1 L137.31,309 L138.08,309.12 L138.85,309.46 L139.62,309.59 L140.39,309 L141.16,309.29 L141.93,309.29 L142.7,309.48 L142.7,319.1Z" fill="#4d4d4d"/>
<g fill="#4d4d4d"><circle cx="125" cy="305.95" r="1.25"/><circle cx="125.91" cy="307.63" r="1.25"/><circle cx="126.05" cy="307.68" r="1.25"/><circle cx="128" cy="296.89" r="1.25"/><circle cx="127.9" cy="299.24" r="1.25"/><circle cx="130" cy="305.18" r="1.25"/><circle cx="130.86" cy="307.73" r="1.25"/><circle cx="130.32" cy="307.33" r="1.25"/><circle cx="133.99" cy="304.25" r="1.25"/><circle cx="133.13" cy="305.13" r="1.25"/><circle cx="136" cy="308.29" r="1.25"/><circle cx="137.38" cy="308.26" r="1.25"/><circle cx="138.84" cy="307.7" r="1.25"/><circle cx="140.59" cy="307.88" r="1.25"/><circle cx="136.8" cy="309.85" r="1.25"/><circle cx="139.81" cy="309.7" r="1.25"/><circle cx="136.88" cy="309.21" r="1.25"/><circle cx="140.48" cy="309.45" r="1.25"/><circle cx="136.63" cy="309.25" r="1.25"/><circle cx="141.14" cy="308.77" r="1.25"/></g>
<circle cx="128" cy="295.7" r="1.3" fill="#4d4d4d"/>
<circle cx="133" cy="299.8" r="1.3" fill="#4d4d4d"/>
<path d="M143.8,319.1 L143.8,306.21 L144.64,306.28 L145.48,306.52 L146.32,306.61 L147.16,306.19 L148,306.19 L148,304.65 L148.8,304.7 L149.6,304.81 L150.4,304.6 L151.2,304.7 L152,304.61 L152,304.29 L152.83,304.14 L153.67,303.76 L154.5,304.28 L155.33,303.76 L156.17,303.93 L157,304.29 L157,306.58 L157.82,306.54 L158.63,306.36 L159.45,306.22 L160.27,306.48 L161.08,306.16 L161.9,306.22 L161.9,319.1Z" fill="#9c9c9c"/>
<g fill="#9c9c9c"><circle cx="144.8" cy="304.57" r="1.25"/><circle cx="146.2" cy="305.22" r="1.25"/><circle cx="146.22" cy="306.35" r="1.25"/><circle cx="145.02" cy="306.59" r="1.25"/><circle cx="145.67" cy="306.8" r="1.25"/><circle cx="149" cy="303.8" r="1.25"/><circle cx="150.57" cy="303.55" r="1.25"/><circle cx="150.5" cy="305.4" r="1.25"/><circle cx="150.62" cy="305.14" r="1.25"/><circle cx="150.79" cy="305.11" r="1.25"/><circle cx="153" cy="302.58" r="1.25"/><circle cx="154.31" cy="302.56" r="1.25"/><circle cx="155.73" cy="302.8" r="1.25"/><circle cx="153.69" cy="303.88" r="1.25"/><circle cx="154.35" cy="304.22" r="1.25"/><circle cx="154.21" cy="304.3" r="1.25"/><circle cx="155.9" cy="303.32" r="1.25"/><circle cx="158" cy="305" r="1.25"/><circle cx="160.43" cy="304.82" r="1.25"/><circle cx="160.84" cy="306.45" r="1.25"/><circle cx="158.19" cy="306.54" r="1.25"/><circle cx="159.58" cy="306.77" r="1.25"/></g>
<circle cx="152" cy="297.2" r="1.3" fill="#9c9c9c"/>
<circle cx="159" cy="289.9" r="1.3" fill="#9c9c9c"/>
<circle cx="145.5" cy="302.6" r="1.3" fill="#9c9c9c"/>
<path d="M162.5,319.1 L162.5,308.71 L163.33,308.78 L164.17,308.9 L165,308.71 L165.83,308.65 L166.67,308.97 L167.5,308.53 L168.33,308.81 L169.17,308.64 L170,308.86 L170,307.67 L170.79,308.19 L171.58,307.81 L172.37,307.63 L173.16,307.76 L173.95,307.84 L174.74,307.61 L175.53,307.85 L176.32,307.85 L177.11,308.02 L177.9,307.81 L177.9,319.1Z" fill="#4d4d4d"/>
<g fill="#4d4d4d"><circle cx="163.5" cy="306.67" r="1.25"/><circle cx="165.24" cy="307.75" r="1.25"/><circle cx="166.46" cy="307.53" r="1.25"/><circle cx="167.67" cy="306.46" r="1.25"/><circle cx="167.02" cy="308.66" r="1.25"/><circle cx="166.61" cy="308.14" r="1.25"/><circle cx="168.92" cy="308.44" r="1.25"/><circle cx="167.05" cy="309.21" r="1.25"/><circle cx="168.07" cy="308.66" r="1.25"/><circle cx="165.07" cy="308.8" r="1.25"/><circle cx="172.35" cy="306.81" r="1.25"/><circle cx="173.73" cy="305.86" r="1.25"/><circle cx="174.92" cy="305.45" r="1.25"/><circle cx="176.2" cy="305.84" r="1.25"/><circle cx="173.51" cy="308.15" r="1.25"/><circle cx="174.93" cy="307.66" r="1.25"/><circle cx="176.59" cy="308.46" r="1.25"/><circle cx="171.23" cy="308.42" r="1.25"/><circle cx="176.45" cy="308.36" r="1.25"/><circle cx="171.74" cy="308.43" r="1.25"/></g>
<circle cx="164" cy="302.6" r="1.3" fill="#4d4d4d"/>
<circle cx="168" cy="300" r="1.3" fill="#4d4d4d"/>
<circle cx="172.5" cy="297.2" r="1.3" fill="#4d4d4d"/>
<circle cx="177" cy="292" r="1.3" fill="#4d4d4d"/>
<path d="M178.7,319.1 L178.7,304.88 L179.56,304.51 L180.42,304.51 L181.28,305.07 L182.14,304.89 L183,304.65 L183,302.26 L183.75,302.29 L184.5,302.34 L185.25,302.67 L186,302.41 L186,304.59 L186.8,305.04 L187.6,304.98 L188.4,304.6 L189.2,305.03 L190,304.87 L190.8,304.97 L191.6,304.9 L192.4,305.04 L193.2,304.97 L194,305 L194,319.1Z" fill="#9c9c9c"/>
<g fill="#9c9c9c"><circle cx="179.7" cy="302.67" r="1.25"/><circle cx="181.23" cy="303.54" r="1.25"/><circle cx="180.99" cy="304.34" r="1.25"/><circle cx="180.17" cy="303.98" r="1.25"/><circle cx="180.83" cy="303.65" r="1.25"/><circle cx="184" cy="300.8" r="1.25"/><circle cx="184.5" cy="302.59" r="1.25"/><circle cx="184.95" cy="300.95" r="1.25"/><circle cx="187" cy="303.7" r="1.25"/><circle cx="191.01" cy="303.37" r="1.25"/><circle cx="192.04" cy="303.33" r="1.25"/><circle cx="188.94" cy="305.53" r="1.25"/><circle cx="190.07" cy="304.79" r="1.25"/><circle cx="192.48" cy="303.51" r="1.25"/><circle cx="191.36" cy="305.03" r="1.25"/><circle cx="188.99" cy="305.37" r="1.25"/><circle cx="189.16" cy="304.77" r="1.25"/></g>
<circle cx="184.5" cy="296.7" r="1.3" fill="#9c9c9c"/>
<circle cx="185" cy="281.6" r="1.3" fill="#9c9c9c"/>
<path d="M195,319.1 L195,308.02 L195.83,308.16 L196.67,307.83 L197.5,307.96 L198.33,307.95 L199.17,308.03 L200,308.2 L200.83,307.88 L201.67,308.2 L202.5,307.94 L203.33,308 L204.17,307.86 L205,308 L205,305.08 L205.75,304.89 L206.5,304.98 L207.25,304.7 L208,304.69 L208,308.58 L208.8,308.75 L209.6,308.78 L210.4,308.87 L210.4,319.1Z" fill="#4d4d4d"/>
<g fill="#4d4d4d"><circle cx="196" cy="305.61" r="1.25"/><circle cx="197.89" cy="306.42" r="1.25"/><circle cx="199.19" cy="305.56" r="1.25"/><circle cx="201.11" cy="306.52" r="1.25"/><circle cx="202.9" cy="307.01" r="1.25"/><circle cx="201.05" cy="308.34" r="1.25"/><circle cx="200.79" cy="308.31" r="1.25"/><circle cx="197.63" cy="308.29" r="1.25"/><circle cx="199.65" cy="308.43" r="1.25"/><circle cx="196.71" cy="307.31" r="1.25"/><circle cx="196.18" cy="308.45" r="1.25"/><circle cx="203.42" cy="308.27" r="1.25"/><circle cx="198.92" cy="308.52" r="1.25"/><circle cx="206" cy="303.61" r="1.25"/><circle cx="206.25" cy="304.67" r="1.25"/><circle cx="206.27" cy="304.69" r="1.25"/><circle cx="209.24" cy="307.45" r="1.25"/></g>
<circle cx="197" cy="287.5" r="1.3" fill="#4d4d4d"/>
<circle cx="201.5" cy="291.4" r="1.3" fill="#4d4d4d"/>
<circle cx="200.5" cy="297.6" r="1.3" fill="#4d4d4d"/>
<circle cx="200" cy="301.8" r="1.3" fill="#4d4d4d"/>
<circle cx="207" cy="301" r="1.3" fill="#4d4d4d"/>
<path d="M212,319.1 L212,303.07 L212.8,303.49 L213.6,303.35 L214.4,303.55 L215.2,303.27 L216,303.01 L216,306.33 L216.76,306.46 L217.53,306.66 L218.29,306.69 L219.05,306.39 L219.82,306.35 L220.58,306.16 L221.35,306.49 L222.11,306.23 L222.87,306.19 L223.64,306.11 L224.4,306.1 L224.4,319.1Z" fill="#9c9c9c"/>
<g fill="#9c9c9c"><circle cx="213" cy="301.94" r="1.25"/><circle cx="212.91" cy="303.67" r="1.25"/><circle cx="213.42" cy="303.69" r="1.25"/><circle cx="213.3" cy="302.11" r="1.25"/><circle cx="217" cy="305.19" r="1.25"/><circle cx="218.86" cy="305.12" r="1.25"/><circle cx="220.48" cy="305.08" r="1.25"/><circle cx="216.95" cy="304.95" r="1.25"/><circle cx="221.2" cy="306.91" r="1.25"/><circle cx="217.4" cy="306.04" r="1.25"/><circle cx="221.73" cy="305.67" r="1.25"/><circle cx="222.6" cy="306.39" r="1.25"/><circle cx="217.27" cy="306.17" r="1.25"/></g>
<circle cx="221" cy="296.7" r="1.3" fill="#9c9c9c"/>
<circle cx="221" cy="298.7" r="1.3" fill="#9c9c9c"/>
<circle cx="221" cy="301" r="1.3" fill="#9c9c9c"/>
<path d="M226.8,319.1 L226.8,306.44 L227.63,306.36 L228.46,306.51 L229.29,306.19 L230.12,306.58 L230.95,306.32 L231.78,306.49 L232.62,306.48 L233.45,306.35 L234.28,306.33 L235.11,306.57 L235.94,306.67 L236.77,306.57 L237.6,306.44 L237.6,319.1Z" fill="#4d4d4d"/>
<g fill="#4d4d4d"><circle cx="227.8" cy="304.42" r="1.25"/><circle cx="232.94" cy="304.91" r="1.25"/><circle cx="234.37" cy="305.37" r="1.25"/><circle cx="230.24" cy="304.75" r="1.25"/><circle cx="230.06" cy="306.28" r="1.25"/><circle cx="232.98" cy="306.91" r="1.25"/><circle cx="235.71" cy="305.16" r="1.25"/><circle cx="235.22" cy="306.9" r="1.25"/><circle cx="235.52" cy="306.54" r="1.25"/><circle cx="230.15" cy="306.96" r="1.25"/><circle cx="234.98" cy="306.72" r="1.25"/></g>
<circle cx="227.5" cy="294.5" r="1.3" fill="#4d4d4d"/>
<circle cx="230" cy="298.4" r="1.3" fill="#4d4d4d"/>
<circle cx="236.5" cy="296.7" r="1.3" fill="#4d4d4d"/>
<circle cx="232" cy="302.3" r="1.3" fill="#4d4d4d"/>
<path d="M240.1,319.1 L240.1,303.55 L240.92,303.21 L241.73,303.05 L242.55,303.33 L243.37,303.48 L244.18,303.12 L245,303.45 L245,304.26 L245.85,303.84 L246.7,304.06 L247.55,304.11 L248.4,303.98 L249.25,303.82 L250.1,303.85 L250.1,319.1Z" fill="#9c9c9c"/>
<g fill="#9c9c9c"><circle cx="241.1" cy="302.05" r="1.25"/><circle cx="241.71" cy="303.45" r="1.25"/><circle cx="243.8" cy="303.9" r="1.25"/><circle cx="242.62" cy="303.28" r="1.25"/><circle cx="246" cy="302.49" r="1.25"/><circle cx="247.19" cy="301.84" r="1.25"/><circle cx="248.56" cy="302.45" r="1.25"/><circle cx="246.37" cy="302.78" r="1.25"/><circle cx="249.22" cy="303.78" r="1.25"/><circle cx="246.23" cy="304.24" r="1.25"/><circle cx="248.51" cy="303.24" r="1.25"/></g>
<circle cx="241.5" cy="290.2" r="1.3" fill="#9c9c9c"/>
<circle cx="241.5" cy="293.3" r="1.3" fill="#9c9c9c"/>
<circle cx="246" cy="298.4" r="1.3" fill="#9c9c9c"/>
<path d="M251.2,319.1 L251.2,306.46 L252.1,306.31 L253,306.41 L253,301.41 L253.8,301.42 L254.6,301.99 L255.4,301.92 L256.2,301.69 L257,301.74 L257,306.26 L257.78,306.57 L258.57,306.36 L259.35,306.67 L260.13,306.56 L260.92,306.59 L261.7,306.68 L261.7,319.1Z" fill="#4d4d4d"/>
<g fill="#4d4d4d"><circle cx="252.09" cy="305.14" r="1.25"/><circle cx="254" cy="299.57" r="1.25"/><circle cx="255.08" cy="299.33" r="1.25"/><circle cx="254.91" cy="302.38" r="1.25"/><circle cx="255.92" cy="300.58" r="1.25"/><circle cx="255.22" cy="301.53" r="1.25"/><circle cx="259.26" cy="304.85" r="1.25"/><circle cx="259.85" cy="306.22" r="1.25"/><circle cx="259.2" cy="305.65" r="1.25"/><circle cx="260.72" cy="307.14" r="1.25"/></g>
<circle cx="255" cy="298" r="1.3" fill="#4d4d4d"/>
<path d="M262.5,319.1 L262.5,309.33 L263.38,309.22 L264.25,309.35 L265.12,309.41 L266,309.74 L266,308.24 L266.8,308.2 L267.6,307.73 L268.4,308.17 L269.2,308.13 L270,308.09 L270,311.29 L270.85,310.73 L271.7,310.79 L271.7,319.1Z" fill="#9c9c9c"/>
<g fill="#9c9c9c"><circle cx="263.9" cy="309.67" r="1.25"/><circle cx="264.7" cy="308.56" r="1.25"/><circle cx="267" cy="306.07" r="1.25"/><circle cx="268.12" cy="306.32" r="1.25"/><circle cx="267.2" cy="308.31" r="1.25"/><circle cx="266.9" cy="308.37" r="1.25"/><circle cx="267.31" cy="306.72" r="1.25"/><circle cx="270.88" cy="310.42" r="1.25"/></g>
<circle cx="264" cy="302.6" r="1.3" fill="#9c9c9c"/>
<path d="M272.5,319.1 L272.5,308.26 L273.33,308.22 L274.17,308.23 L275,307.78 L275,301.67 L275.75,301.46 L276.5,301.96 L277.25,301.91 L278,301.78 L278,307.97 L278.73,307.9 L279.45,308.19 L280.17,307.99 L280.9,308.08 L280.9,319.1Z" fill="#4d4d4d"/>
<g fill="#4d4d4d"><circle cx="273.5" cy="305.78" r="1.25"/><circle cx="273.91" cy="308.11" r="1.25"/><circle cx="273.48" cy="308.58" r="1.25"/><circle cx="276" cy="299.68" r="1.25"/><circle cx="276.21" cy="302.24" r="1.25"/><circle cx="276.29" cy="300.97" r="1.25"/><circle cx="279" cy="306.34" r="1.25"/><circle cx="279.01" cy="308.72" r="1.25"/><circle cx="278.94" cy="308.62" r="1.25"/></g>
<circle cx="279.2" cy="283.6" r="1.3" fill="#4d4d4d"/>
<circle cx="279.2" cy="288.6" r="1.3" fill="#4d4d4d"/>
<circle cx="275" cy="298.3" r="1.3" fill="#4d4d4d"/>
<circle cx="277" cy="299.5" r="1.3" fill="#4d4d4d"/>
<circle cx="279" cy="298.7" r="1.3" fill="#4d4d4d"/>
<path d="M281.6,319.1 L281.6,306.5 L282.3,306.23 L283,306.39 L283,305.47 L284,305.45 L285,305.42 L285,306.32 L285.75,306.69 L286.5,306.7 L287.25,306.66 L288,306.16 L288.75,306.27 L289.5,306.64 L289.5,319.1Z" fill="#9c9c9c"/>
<g fill="#9c9c9c"><circle cx="282.48" cy="306.78" r="1.25"/><circle cx="284.08" cy="305.31" r="1.25"/><circle cx="286" cy="304.17" r="1.25"/><circle cx="287.83" cy="304.79" r="1.25"/><circle cx="288.38" cy="305.82" r="1.25"/><circle cx="287.45" cy="305.58" r="1.25"/><circle cx="286.37" cy="306.84" r="1.25"/></g>
<path d="M290.6,319.1 L290.6,307.33 L291.35,307.02 L292.1,306.95 L292.85,306.95 L293.6,307.27 L294.35,307.2 L295.1,307.06 L295.85,307.02 L296.6,307.27 L296.6,319.1Z" fill="#4d4d4d"/>
<g fill="#4d4d4d"><circle cx="293.18" cy="305.07" r="1.25"/><circle cx="294.92" cy="305.4" r="1.25"/><circle cx="294.92" cy="306.9" r="1.25"/><circle cx="295.05" cy="307.77" r="1.25"/><circle cx="293.57" cy="305.76" r="1.25"/><circle cx="295.34" cy="307.18" r="1.25"/></g>
<circle cx="291.5" cy="303.4" r="1.3" fill="#4d4d4d"/>
<circle cx="294.5" cy="303.4" r="1.3" fill="#4d4d4d"/>
<path d="M298.5,319.1 L298.5,308.22 L299.37,307.86 L300.23,307.81 L301.1,308.2 L301.97,307.92 L302.83,307.8 L303.7,307.92 L303.7,319.1Z" fill="#9c9c9c"/>
<g fill="#9c9c9c"><circle cx="299.5" cy="306.5" r="1.25"/><circle cx="301.02" cy="306.26" r="1.25"/><circle cx="300.48" cy="308.36" r="1.25"/><circle cx="300.69" cy="308.42" r="1.25"/><circle cx="299.59" cy="308.59" r="1.25"/><circle cx="302.67" cy="308.01" r="1.25"/></g>
<circle cx="300" cy="283.2" r="1.3" fill="#9c9c9c"/>
<circle cx="300" cy="290.2" r="1.3" fill="#9c9c9c"/>
<circle cx="300" cy="291.7" r="1.3" fill="#9c9c9c"/>
<circle cx="300" cy="293.6" r="1.3" fill="#9c9c9c"/>
<circle cx="300" cy="298" r="1.3" fill="#9c9c9c"/>
<path d="M305,319.1 L305,308.01 L305.8,308.02 L306.6,308.02 L307.4,307.71 L308.2,308.28 L309,307.83 L309,305.41 L309.75,305.36 L310.5,305.45 L311.25,305.79 L312,305.32 L312.75,305.36 L313.5,305.72 L314.25,305.42 L315,305.31 L315,308.06 L315.83,308.05 L316.67,308.01 L317.5,308.12 L318.33,307.76 L319.17,308.22 L320,308.13 L320.83,307.73 L321.67,307.77 L322.5,308 L322.5,319.1Z" fill="#4d4d4d"/>
<g fill="#4d4d4d"><circle cx="306" cy="306.35" r="1.25"/><circle cx="307.12" cy="306.2" r="1.25"/><circle cx="307.81" cy="307.21" r="1.25"/><circle cx="307.16" cy="308.41" r="1.25"/><circle cx="306.24" cy="308.52" r="1.25"/><circle cx="310" cy="304.65" r="1.25"/><circle cx="311.42" cy="304.49" r="1.25"/><circle cx="312.82" cy="304.66" r="1.25"/><circle cx="310.9" cy="305.3" r="1.25"/><circle cx="311.73" cy="306.33" r="1.25"/><circle cx="313.29" cy="306.24" r="1.25"/><circle cx="313.34" cy="306.15" r="1.25"/><circle cx="316" cy="305.64" r="1.25"/><circle cx="317.96" cy="307.04" r="1.25"/><circle cx="319.38" cy="306.56" r="1.25"/><circle cx="320.91" cy="305.66" r="1.25"/><circle cx="315.99" cy="307.18" r="1.25"/><circle cx="321.45" cy="308.45" r="1.25"/><circle cx="321.26" cy="308.24" r="1.25"/><circle cx="320.53" cy="308.6" r="1.25"/><circle cx="320.96" cy="306.71" r="1.25"/><circle cx="319.56" cy="307.54" r="1.25"/></g>
<circle cx="311" cy="293.8" r="1.3" fill="#4d4d4d"/>
<circle cx="311" cy="297.2" r="1.3" fill="#4d4d4d"/>
<circle cx="313" cy="301.8" r="1.3" fill="#4d4d4d"/>
<circle cx="306" cy="304.5" r="1.3" fill="#4d4d4d"/>
<path d="M323.5,319.1 L323.5,317.41 L324.3,317.16 L325.1,317.33 L325.9,317.55 L326.7,317.37 L327.5,317.15 L327.5,319.1Z" fill="#9c9c9c"/>
<g fill="#9c9c9c"><circle cx="324.5" cy="315.68" r="1.25"/><circle cx="326.45" cy="315.31" r="1.25"/><circle cx="324.65" cy="317.48" r="1.25"/><circle cx="326.53" cy="317.34" r="1.25"/><circle cx="324.98" cy="317.26" r="1.25"/></g>
<circle cx="325.5" cy="306" r="1.3" fill="#9c9c9c"/>
<circle cx="325.5" cy="309.6" r="1.3" fill="#9c9c9c"/>
<circle cx="325.5" cy="311.9" r="1.3" fill="#9c9c9c"/>
<rect x="44.2" y="261.7" width="4.6" height="4.6" fill="#e1191f"/>
<line x1="47.5" y1="261.8" x2="52" y2="258.3" stroke="#999" stroke-width="0.5" />
<circle cx="159.3" cy="241.2" r="2.5" fill="#e1191f"/>
<path d="M156.1,250.6 L162.1,250.6 L159.1,245.6Z" fill="#e1191f"/>
<rect x="152.8" y="252.7" width="4" height="4" fill="#e1191f"/>
<circle cx="159.2" cy="259.6" r="2.5" fill="#e1191f"/>
<path d="M152.2,268.7 L158,268.7 L155.1,263.5Z" fill="#e1191f"/>
<line x1="144.8" y1="251.3" x2="153" y2="254.8" stroke="#999" stroke-width="0.5" />
<line x1="143.8" y1="260.5" x2="154.5" y2="264.5" stroke="#999" stroke-width="0.5" />
<line x1="160.2" y1="238.8" x2="166.5" y2="232" stroke="#999" stroke-width="0.5" />
<line x1="161.2" y1="246" x2="167" y2="241.5" stroke="#999" stroke-width="0.5" />
<line x1="157" y1="254" x2="166.5" y2="250.5" stroke="#999" stroke-width="0.5" />
<rect x="234.05" y="212.05" width="4.9" height="4.9" fill="#e1191f"/>
<line x1="231.2" y1="214.2" x2="234" y2="214.2" stroke="#999" stroke-width="0.5" />
<circle cx="227.5" cy="258.2" r="2.5" fill="#e1191f"/>
<line x1="229.3" y1="256.2" x2="235.5" y2="248.8" stroke="#999" stroke-width="0.5" />
<rect x="323.1" y="278.2" width="4.6" height="4.6" fill="#e1191f"/>
<line x1="271" y1="257.5" x2="323" y2="279" stroke="#999" stroke-width="0.5" />
<circle cx="284.9" cy="277.6" r="2.3" fill="#e1191f"/>
<line x1="273.6" y1="267" x2="284" y2="275.5" stroke="#999" stroke-width="0.5" />
<rect x="276.8" y="275.7" width="4.2" height="4.2" fill="#e1191f"/>
<line x1="237" y1="270.8" x2="277" y2="276.5" stroke="#999" stroke-width="0.5" />
<path d="M239.75,282.85 L245.25,282.85 L242.5,278.35Z" fill="#e1191f"/>
<line x1="233" y1="277" x2="240.5" y2="280" stroke="#999" stroke-width="0.5" />
<path d="M298,275.4 L303,275.4 L300.5,270.8Z" fill="#e1191f"/>
<line x1="296.3" y1="265.3" x2="299.8" y2="270.8" stroke="#999" stroke-width="0.5" />
<circle cx="325.4" cy="250.3" r="2.3" fill="#e1191f"/>
<line x1="306.5" y1="245.5" x2="323" y2="249.8" stroke="#999" stroke-width="0.5" />
<path d="M322.8,246.3 L328.4,246.3 L325.6,241.5Z" fill="#e1191f"/>
<line x1="318.5" y1="236.5" x2="324" y2="241.8" stroke="#999" stroke-width="0.5" />
<text transform="translate(30.3,258.2) scale(0.875,1)" font-size="9.6" font-weight="normal" font-style="italic" text-anchor="start" fill="#231f20"  stroke="#231f20" stroke-width="0.3">AC239859.3</text>
<text transform="translate(111.2,251.5) scale(0.875,1)" font-size="9.6" font-weight="normal" font-style="italic" text-anchor="start" fill="#231f20"  stroke="#231f20" stroke-width="0.3">TRBV6-1</text>
<text transform="translate(98.8,261.2) scale(0.875,1)" font-size="9.6" font-weight="normal" font-style="italic" text-anchor="start" fill="#231f20"  stroke="#231f20" stroke-width="0.3">AC093668.1</text>
<text transform="translate(166.2,232.7) scale(0.875,1)" font-size="9.6" font-weight="normal" font-style="italic" text-anchor="start" fill="#231f20"  stroke="#231f20" stroke-width="0.3">TRBV5-5</text>
<text transform="translate(167.2,242.5) scale(0.875,1)" font-size="9.6" font-weight="normal" font-style="italic" text-anchor="start" fill="#231f20"  stroke="#231f20" stroke-width="0.3">TRBV3-1</text>
<text transform="translate(166.5,251.2) scale(0.875,1)" font-size="9.6" font-weight="normal" font-style="italic" text-anchor="start" fill="#231f20"  stroke="#231f20" stroke-width="0.3">MUC3A</text>
<text transform="translate(207,217.4) scale(0.875,1)" font-size="9.6" font-weight="normal" font-style="italic" text-anchor="start" fill="#231f20"  stroke="#231f20" stroke-width="0.3">IGHJ6</text>
<text transform="translate(234.5,248.7) scale(0.875,1)" font-size="9.6" font-weight="normal" font-style="italic" text-anchor="start" fill="#231f20"  stroke="#231f20" stroke-width="0.3">OR11H12</text>
<text transform="translate(235.2,257.7) scale(0.875,1)" font-size="9.6" font-weight="normal" font-style="italic" text-anchor="start" fill="#231f20"  stroke="#231f20" stroke-width="0.3">DUX4L17</text>
<text transform="translate(237,267.1) scale(0.875,1)" font-size="9.6" font-weight="normal" font-style="italic" text-anchor="start" fill="#231f20"  stroke="#231f20" stroke-width="0.3">CDC27P3</text>
<text transform="translate(202.6,271) scale(0.875,1)" font-size="9.6" font-weight="normal" font-style="italic" text-anchor="start" fill="#231f20"  stroke="#231f20" stroke-width="0.3">KIR2DL3</text>
<text transform="translate(187.6,280.3) scale(0.875,1)" font-size="9.6" font-weight="normal" font-style="italic" text-anchor="start" fill="#231f20"  stroke="#231f20" stroke-width="0.3">AC026150.1</text>
<text transform="translate(274.9,265.3) scale(0.875,1)" font-size="9.6" font-weight="normal" font-style="italic" text-anchor="start" fill="#231f20"  stroke="#231f20" stroke-width="0.3">IGLL5</text>
<text transform="translate(271.2,245.5) scale(0.875,1)" font-size="9.6" font-weight="normal" font-style="italic" text-anchor="start" fill="#231f20"  stroke="#231f20" stroke-width="0.3">DUX4L16</text>
<text transform="translate(283,236.7) scale(0.875,1)" font-size="9.6" font-weight="normal" font-style="italic" text-anchor="start" fill="#231f20"  stroke="#231f20" stroke-width="0.3">DUX4L18</text>
<line x1="384.6" y1="26.2" x2="384.6" y2="135.8" stroke="#5c5c5c" stroke-width="0.95" />
<line x1="381.8" y1="135.5" x2="384.6" y2="135.5" stroke="#5c5c5c" stroke-width="0.95" />
<text transform="translate(379.6,138.5) scale(0.84,1)" font-size="9.6" font-weight="bold" font-style="normal" text-anchor="end" fill="#231f20"  stroke="#231f20" stroke-width="0.15">0</text>
<line x1="381.8" y1="103.45" x2="384.6" y2="103.45" stroke="#5c5c5c" stroke-width="0.95" />
<text transform="translate(379.6,106.45) scale(0.84,1)" font-size="9.6" font-weight="bold" font-style="normal" text-anchor="end" fill="#231f20"  stroke="#231f20" stroke-width="0.15">5</text>
<line x1="381.8" y1="71.4" x2="384.6" y2="71.4" stroke="#5c5c5c" stroke-width="0.95" />
<text transform="translate(379.6,74.4) scale(0.84,1)" font-size="9.6" font-weight="bold" font-style="normal" text-anchor="end" fill="#231f20"  stroke="#231f20" stroke-width="0.15">10</text>
<line x1="381.8" y1="39.35" x2="384.6" y2="39.35" stroke="#5c5c5c" stroke-width="0.95" />
<text transform="translate(379.6,42.35) scale(0.84,1)" font-size="9.6" font-weight="bold" font-style="normal" text-anchor="end" fill="#231f20"  stroke="#231f20" stroke-width="0.15">15</text>
<line x1="384.3" y1="140" x2="682.5" y2="140" stroke="#939393" stroke-width="1.0" />
<line x1="384.7" y1="140.3" x2="384.7" y2="142.9" stroke="#7a7a7a" stroke-width="0.9" />
<line x1="397.1" y1="140.3" x2="397.1" y2="142.9" stroke="#7a7a7a" stroke-width="0.9" />
<line x1="418.5" y1="140.3" x2="418.5" y2="142.9" stroke="#7a7a7a" stroke-width="0.9" />
<line x1="438.4" y1="140.3" x2="438.4" y2="142.9" stroke="#7a7a7a" stroke-width="0.9" />
<line x1="456.1" y1="140.3" x2="456.1" y2="142.9" stroke="#7a7a7a" stroke-width="0.9" />
<line x1="473.1" y1="140.3" x2="473.1" y2="142.9" stroke="#7a7a7a" stroke-width="0.9" />
<line x1="489.4" y1="140.3" x2="489.4" y2="142.9" stroke="#7a7a7a" stroke-width="0.9" />
<line x1="505.3" y1="140.3" x2="505.3" y2="142.9" stroke="#7a7a7a" stroke-width="0.9" />
<line x1="519.5" y1="140.3" x2="519.5" y2="142.9" stroke="#7a7a7a" stroke-width="0.9" />
<line x1="533.5" y1="140.3" x2="533.5" y2="142.9" stroke="#7a7a7a" stroke-width="0.9" />
<line x1="546.4" y1="140.3" x2="546.4" y2="142.9" stroke="#7a7a7a" stroke-width="0.9" />
<line x1="559.4" y1="140.3" x2="559.4" y2="142.9" stroke="#7a7a7a" stroke-width="0.9" />
<line x1="572.6" y1="140.3" x2="572.6" y2="142.9" stroke="#7a7a7a" stroke-width="0.9" />
<line x1="584.6" y1="140.3" x2="584.6" y2="142.9" stroke="#7a7a7a" stroke-width="0.9" />
<line x1="595.6" y1="140.3" x2="595.6" y2="142.9" stroke="#7a7a7a" stroke-width="0.9" />
<line x1="606.5" y1="140.3" x2="606.5" y2="142.9" stroke="#7a7a7a" stroke-width="0.9" />
<line x1="616.4" y1="140.3" x2="616.4" y2="142.9" stroke="#7a7a7a" stroke-width="0.9" />
<line x1="625.4" y1="140.3" x2="625.4" y2="142.9" stroke="#7a7a7a" stroke-width="0.9" />
<line x1="634.6" y1="140.3" x2="634.6" y2="142.9" stroke="#7a7a7a" stroke-width="0.9" />
<line x1="642.5" y1="140.3" x2="642.5" y2="142.9" stroke="#7a7a7a" stroke-width="0.9" />
<line x1="649.7" y1="140.3" x2="649.7" y2="142.9" stroke="#7a7a7a" stroke-width="0.9" />
<line x1="656.5" y1="140.3" x2="656.5" y2="142.9" stroke="#7a7a7a" stroke-width="0.9" />
<line x1="662.4" y1="140.3" x2="662.4" y2="142.9" stroke="#7a7a7a" stroke-width="0.9" />
<line x1="673.6" y1="140.3" x2="673.6" y2="142.9" stroke="#7a7a7a" stroke-width="0.9" />
<line x1="682.3" y1="140.3" x2="682.3" y2="142.9" stroke="#7a7a7a" stroke-width="0.9" />
<text transform="translate(418.5,151.8) scale(0.84,1)" font-size="9.6" font-weight="bold" font-style="normal" text-anchor="middle" fill="#231f20"  stroke="#231f20" stroke-width="0.15">2</text>
<text transform="translate(438.4,151.8) scale(0.84,1)" font-size="9.6" font-weight="bold" font-style="normal" text-anchor="middle" fill="#231f20"  stroke="#231f20" stroke-width="0.15">3</text>
<text transform="translate(456.1,151.8) scale(0.84,1)" font-size="9.6" font-weight="bold" font-style="normal" text-anchor="middle" fill="#231f20"  stroke="#231f20" stroke-width="0.15">4</text>
<text transform="translate(473.1,151.8) scale(0.84,1)" font-size="9.6" font-weight="bold" font-style="normal" text-anchor="middle" fill="#231f20"  stroke="#231f20" stroke-width="0.15">5</text>
<text transform="translate(489.5,151.8) scale(0.84,1)" font-size="9.6" font-weight="bold" font-style="normal" text-anchor="middle" fill="#231f20"  stroke="#231f20" stroke-width="0.15">6</text>
<text transform="translate(505.3,151.8) scale(0.84,1)" font-size="9.6" font-weight="bold" font-style="normal" text-anchor="middle" fill="#231f20"  stroke="#231f20" stroke-width="0.15">7</text>
<text transform="translate(519.4,151.8) scale(0.84,1)" font-size="9.6" font-weight="bold" font-style="normal" text-anchor="middle" fill="#231f20"  stroke="#231f20" stroke-width="0.15">8</text>
<text transform="translate(533.5,151.8) scale(0.84,1)" font-size="9.6" font-weight="bold" font-style="normal" text-anchor="middle" fill="#231f20"  stroke="#231f20" stroke-width="0.15">9</text>
<text transform="translate(559.5,151.8) scale(0.84,1)" font-size="9.6" font-weight="bold" font-style="normal" text-anchor="middle" fill="#231f20"  stroke="#231f20" stroke-width="0.15">11</text>
<text transform="translate(584.6,151.8) scale(0.84,1)" font-size="9.6" font-weight="bold" font-style="normal" text-anchor="middle" fill="#231f20"  stroke="#231f20" stroke-width="0.15">13</text>
<text transform="translate(606.5,151.8) scale(0.84,1)" font-size="9.6" font-weight="bold" font-style="normal" text-anchor="middle" fill="#231f20"  stroke="#231f20" stroke-width="0.15">15</text>
<text transform="translate(625.4,151.8) scale(0.84,1)" font-size="9.6" font-weight="bold" font-style="normal" text-anchor="middle" fill="#231f20"  stroke="#231f20" stroke-width="0.15">17</text>
<text transform="translate(642.5,151.8) scale(0.84,1)" font-size="9.6" font-weight="bold" font-style="normal" text-anchor="middle" fill="#231f20"  stroke="#231f20" stroke-width="0.15">19</text>
<text transform="translate(662.3,151.8) scale(0.84,1)" font-size="9.6" font-weight="bold" font-style="normal" text-anchor="middle" fill="#231f20"  stroke="#231f20" stroke-width="0.15">22</text>
<text transform="translate(682.1,151.8) scale(0.84,1)" font-size="9.6" font-weight="bold" font-style="normal" text-anchor="middle" fill="#231f20"  stroke="#231f20" stroke-width="0.15">Y</text>
<text transform="translate(378.1,151.8) scale(0.84,1)" font-size="9.6" font-weight="bold" font-style="normal" text-anchor="start" fill="#231f20"  stroke="#231f20" stroke-width="0.15">Chr</text>
<line x1="386" y1="97.04" x2="682.5" y2="97.04" stroke="#f2b2b2" stroke-width="1.1" stroke-dasharray="1 1"/>
<line x1="386" y1="109.86" x2="682.5" y2="109.86" stroke="#f2b2b2" stroke-width="1.1" stroke-dasharray="1 1"/>
<text transform="translate(366,81) rotate(-90)" text-anchor="middle" font-size="14" fill="#231f20">&#8211;log<tspan font-size="8.5" dy="1">10</tspan><tspan dy="-1" font-size="15">(</tspan><tspan font-style="italic">p</tspan><tspan font-size="15">)</tspan></text>
<text transform="translate(527.7,13.6) scale(0.906,1)" font-size="15.4" font-weight="normal" font-style="normal" text-anchor="middle" fill="#231f20" >COVID-19 vs CNRP</text>
<text transform="translate(362,7.2) scale(1,1)" font-size="12" font-weight="bold" font-style="normal" text-anchor="start" fill="#231f20" stroke="#231f20" stroke-width="0.35">c</text>
<path d="M386.1,136.5 L386.1,118.22 L386.83,117.99 L387.55,117.97 L388.27,117.98 L389,118.08 L389,119.44 L389.83,119.37 L390.67,119.35 L391.5,119.25 L392.33,119.53 L393.17,119.7 L394,119.57 L394.83,119.54 L395.67,119.59 L396.5,119.32 L396.5,122.13 L397.7,121.98 L397.7,119.53 L398.53,119.57 L399.37,119.48 L400.2,119.39 L401.03,119.35 L401.87,119.33 L402.7,119.51 L403.53,119.43 L404.37,119.55 L405.2,119.21 L406.03,119.41 L406.87,119.72 L407.7,119.34 L407.7,136.5Z" fill="#4d4d4d"/>
<g fill="#4d4d4d"><circle cx="387.1" cy="116.64" r="1.25"/><circle cx="388.11" cy="117.81" r="1.25"/><circle cx="387.86" cy="117.45" r="1.25"/><circle cx="391.44" cy="117.15" r="1.25"/><circle cx="392.88" cy="118.23" r="1.25"/><circle cx="394.11" cy="118.58" r="1.25"/><circle cx="395.26" cy="117.59" r="1.25"/><circle cx="393.42" cy="120.05" r="1.25"/><circle cx="394.6" cy="119.55" r="1.25"/><circle cx="394.12" cy="119.91" r="1.25"/><circle cx="394.24" cy="119.47" r="1.25"/><circle cx="394.39" cy="119.85" r="1.25"/><circle cx="395.13" cy="118.64" r="1.25"/><circle cx="398.7" cy="118.44" r="1.25"/><circle cx="400.47" cy="117.99" r="1.25"/><circle cx="402.43" cy="117.97" r="1.25"/><circle cx="404.21" cy="118.45" r="1.25"/><circle cx="405.59" cy="117.77" r="1.25"/><circle cx="400.99" cy="119.31" r="1.25"/><circle cx="403.16" cy="119.3" r="1.25"/><circle cx="401.23" cy="119.97" r="1.25"/><circle cx="405.58" cy="119.52" r="1.25"/><circle cx="402.24" cy="118.82" r="1.25"/><circle cx="401.08" cy="118.7" r="1.25"/><circle cx="403.32" cy="119.66" r="1.25"/><circle cx="399.3" cy="120.15" r="1.25"/></g>
<circle cx="388.8" cy="112.2" r="1.3" fill="#4d4d4d"/>
<circle cx="389.5" cy="115.2" r="1.3" fill="#4d4d4d"/>
<circle cx="393.5" cy="115.2" r="1.3" fill="#4d4d4d"/>
<circle cx="401" cy="113.1" r="1.3" fill="#4d4d4d"/>
<circle cx="404.5" cy="113.1" r="1.3" fill="#4d4d4d"/>
<circle cx="403" cy="114.5" r="1.3" fill="#4d4d4d"/>
<path d="M408.5,136.5 L408.5,120.09 L409.3,120.41 L410.1,120.4 L410.9,120.48 L411.7,120.02 L412.5,120.16 L413.3,120.45 L414.1,119.91 L414.9,119.93 L415.7,120.24 L416.5,120.2 L417.3,120.45 L418.1,120.36 L418.9,120.22 L419.7,120.5 L420.5,120.21 L421.3,120.21 L422.1,120.31 L422.9,120.13 L423.7,120.11 L424.5,120.26 L425.3,120.11 L426.1,120.47 L426.9,120.31 L427.7,120.22 L428.5,119.96 L429.3,120.12 L429.3,136.5Z" fill="#9c9c9c"/>
<g fill="#9c9c9c"><circle cx="409.5" cy="118.39" r="1.25"/><circle cx="412.56" cy="118.45" r="1.25"/><circle cx="414.56" cy="118.3" r="1.25"/><circle cx="416.37" cy="118.02" r="1.25"/><circle cx="418.35" cy="119.07" r="1.25"/><circle cx="419.46" cy="119.18" r="1.25"/><circle cx="422.7" cy="118" r="1.25"/><circle cx="424.21" cy="118.56" r="1.25"/><circle cx="425.4" cy="118.76" r="1.25"/><circle cx="426.75" cy="119.34" r="1.25"/><circle cx="427.79" cy="118.41" r="1.25"/><circle cx="422.53" cy="118.61" r="1.25"/><circle cx="415.17" cy="120.74" r="1.25"/><circle cx="420.54" cy="120.49" r="1.25"/><circle cx="413.12" cy="120.21" r="1.25"/><circle cx="419.91" cy="119.74" r="1.25"/><circle cx="421.7" cy="120.27" r="1.25"/><circle cx="428.37" cy="120.34" r="1.25"/><circle cx="417.21" cy="119.32" r="1.25"/><circle cx="412.36" cy="120.63" r="1.25"/><circle cx="411.41" cy="119.24" r="1.25"/><circle cx="412.62" cy="120.26" r="1.25"/><circle cx="425.06" cy="120.41" r="1.25"/><circle cx="424.74" cy="119.07" r="1.25"/><circle cx="409.61" cy="120.64" r="1.25"/><circle cx="415.52" cy="120.56" r="1.25"/><circle cx="416.12" cy="119.48" r="1.25"/></g>
<circle cx="410.5" cy="113.8" r="1.3" fill="#9c9c9c"/>
<circle cx="415" cy="111.8" r="1.3" fill="#9c9c9c"/>
<circle cx="415.5" cy="114.5" r="1.3" fill="#9c9c9c"/>
<circle cx="426" cy="113.5" r="1.3" fill="#9c9c9c"/>
<circle cx="427.5" cy="112.7" r="1.3" fill="#9c9c9c"/>
<path d="M430,136.5 L430,120.06 L430.78,119.96 L431.56,120.44 L432.33,120.25 L433.11,120.11 L433.89,120.17 L434.67,120.13 L435.44,119.93 L436.22,120.43 L437,120.25 L437,121.48 L437.8,121.16 L438.6,121.27 L439.4,121.05 L440.2,120.93 L441,121.46 L441,120.21 L441.84,119.89 L442.69,120.24 L443.53,120.19 L444.37,119.88 L445.21,120.06 L446.06,120.28 L446.9,120 L446.9,136.5Z" fill="#4d4d4d"/>
<g fill="#4d4d4d"><circle cx="431" cy="119.27" r="1.25"/><circle cx="432.39" cy="118.9" r="1.25"/><circle cx="433.7" cy="119.15" r="1.25"/><circle cx="435.49" cy="118.14" r="1.25"/><circle cx="431.85" cy="120.91" r="1.25"/><circle cx="432.4" cy="120.32" r="1.25"/><circle cx="431.48" cy="120.28" r="1.25"/><circle cx="432.9" cy="120.04" r="1.25"/><circle cx="431.22" cy="119.33" r="1.25"/><circle cx="438" cy="120.07" r="1.25"/><circle cx="439.24" cy="119.06" r="1.25"/><circle cx="437.95" cy="121.49" r="1.25"/><circle cx="438.64" cy="120.44" r="1.25"/><circle cx="439.46" cy="120.21" r="1.25"/><circle cx="444.93" cy="117.8" r="1.25"/><circle cx="443.44" cy="120.7" r="1.25"/><circle cx="442.74" cy="120.69" r="1.25"/><circle cx="443.97" cy="119.44" r="1.25"/><circle cx="443.75" cy="119.15" r="1.25"/></g>
<circle cx="433.5" cy="111.1" r="1.3" fill="#4d4d4d"/>
<circle cx="438" cy="116.2" r="1.3" fill="#4d4d4d"/>
<circle cx="443.5" cy="113.1" r="1.3" fill="#4d4d4d"/>
<circle cx="445.5" cy="114.9" r="1.3" fill="#4d4d4d"/>
<path d="M447.9,136.5 L447.9,116.22 L448.6,115.96 L449.3,116.34 L450,116.15 L450,120.72 L450.8,120.65 L451.6,120.86 L452.4,120.63 L453.2,121.02 L454,120.57 L454.8,120.81 L455.6,120.83 L456.4,120.66 L457.2,120.96 L458,120.73 L458,120.29 L458.8,120.24 L459.6,120.09 L460.4,120.13 L461.2,119.95 L462,120.01 L462.8,120.41 L463.6,120.09 L464.4,120.3 L464.4,136.5Z" fill="#9c9c9c"/>
<g fill="#9c9c9c"><circle cx="448.9" cy="113.82" r="1.25"/><circle cx="448.95" cy="115.71" r="1.25"/><circle cx="451" cy="118.46" r="1.25"/><circle cx="452.23" cy="118.55" r="1.25"/><circle cx="456.42" cy="118.79" r="1.25"/><circle cx="455.02" cy="120.53" r="1.25"/><circle cx="453.45" cy="121.08" r="1.25"/><circle cx="455.25" cy="120.3" r="1.25"/><circle cx="456.17" cy="120.53" r="1.25"/><circle cx="454.81" cy="120.12" r="1.25"/><circle cx="451.6" cy="121.44" r="1.25"/><circle cx="459" cy="118.92" r="1.25"/><circle cx="460.04" cy="117.81" r="1.25"/><circle cx="461.24" cy="118.23" r="1.25"/><circle cx="462.28" cy="118.25" r="1.25"/><circle cx="462.78" cy="120.34" r="1.25"/><circle cx="462.21" cy="119.71" r="1.25"/><circle cx="460.9" cy="120.52" r="1.25"/><circle cx="460.5" cy="118.53" r="1.25"/><circle cx="462.75" cy="120.65" r="1.25"/></g>
<circle cx="457.5" cy="111.8" r="1.3" fill="#9c9c9c"/>
<circle cx="460" cy="113.5" r="1.3" fill="#9c9c9c"/>
<path d="M465.1,136.5 L465.1,115.37 L466.05,115.23 L467,115.71 L467,120.26 L467.75,119.93 L468.5,120.05 L469.25,119.97 L470,120.37 L470,119.33 L470.83,119.75 L471.67,119.65 L472.5,119.25 L473.33,119.62 L474.17,119.44 L475,119.65 L475,118.4 L475.77,118.07 L476.55,117.95 L477.32,118.47 L478.1,118.15 L478.88,118.46 L479.65,118.31 L480.43,118.34 L481.2,118.4 L481.2,136.5Z" fill="#4d4d4d"/>
<g fill="#4d4d4d"><circle cx="466.07" cy="115.43" r="1.25"/><circle cx="468" cy="117.84" r="1.25"/><circle cx="468.51" cy="120.86" r="1.25"/><circle cx="468.03" cy="120.63" r="1.25"/><circle cx="471" cy="117.12" r="1.25"/><circle cx="472.81" cy="117.47" r="1.25"/><circle cx="472.95" cy="119.59" r="1.25"/><circle cx="471.69" cy="118.36" r="1.25"/><circle cx="472.04" cy="119.35" r="1.25"/><circle cx="471.53" cy="119.14" r="1.25"/><circle cx="476" cy="115.97" r="1.25"/><circle cx="477.67" cy="116.13" r="1.25"/><circle cx="477.21" cy="118.8" r="1.25"/><circle cx="476.51" cy="118.33" r="1.25"/><circle cx="477.36" cy="118.71" r="1.25"/><circle cx="478.31" cy="118.63" r="1.25"/></g>
<circle cx="477" cy="114.9" r="1.3" fill="#4d4d4d"/>
<circle cx="480" cy="115.8" r="1.3" fill="#4d4d4d"/>
<circle cx="466" cy="114" r="1.3" fill="#4d4d4d"/>
<path d="M482.3,136.5 L482.3,120 L483.11,120.3 L483.91,120.26 L484.72,120.18 L485.52,120.36 L486.33,120.4 L487.13,119.97 L487.94,120.07 L488.74,120.12 L489.55,120.02 L490.36,119.94 L491.16,120.07 L491.97,120.02 L492.77,120.32 L493.58,120.17 L494.38,119.97 L495.19,120.09 L495.99,120.18 L496.8,120.12 L496.8,136.5Z" fill="#9c9c9c"/>
<g fill="#9c9c9c"><circle cx="483.3" cy="118.02" r="1.25"/><circle cx="484.31" cy="119.34" r="1.25"/><circle cx="486.96" cy="117.92" r="1.25"/><circle cx="488.39" cy="118.05" r="1.25"/><circle cx="489.4" cy="119.22" r="1.25"/><circle cx="491.03" cy="119.25" r="1.25"/><circle cx="492.28" cy="118.14" r="1.25"/><circle cx="494.6" cy="118.05" r="1.25"/><circle cx="494.99" cy="119.48" r="1.25"/><circle cx="493.18" cy="120.73" r="1.25"/><circle cx="492.64" cy="119.88" r="1.25"/><circle cx="485.53" cy="120.72" r="1.25"/><circle cx="487.26" cy="119.97" r="1.25"/><circle cx="490.2" cy="119.97" r="1.25"/><circle cx="493.78" cy="119.67" r="1.25"/><circle cx="483.7" cy="120.33" r="1.25"/><circle cx="491.18" cy="120.71" r="1.25"/><circle cx="492.17" cy="120.83" r="1.25"/><circle cx="495.22" cy="120.21" r="1.25"/></g>
<circle cx="484.3" cy="103.3" r="1.3" fill="#9c9c9c"/>
<circle cx="485.8" cy="111.8" r="1.3" fill="#9c9c9c"/>
<circle cx="496" cy="110.9" r="1.3" fill="#9c9c9c"/>
<circle cx="496" cy="114.9" r="1.3" fill="#9c9c9c"/>
<path d="M497.9,136.5 L497.9,119.5 L498.71,119.29 L499.52,119.38 L500.33,119.55 L501.14,119.25 L501.95,119.61 L502.76,119.3 L503.57,119.47 L504.38,119.78 L505.19,119.25 L506,119.22 L506,117.46 L506.84,117.31 L507.69,117.63 L508.53,117.2 L509.37,117.7 L510.21,117.71 L511.06,117.67 L511.9,117.46 L511.9,136.5Z" fill="#4d4d4d"/>
<g fill="#4d4d4d"><circle cx="498.9" cy="117.5" r="1.25"/><circle cx="500.41" cy="117.72" r="1.25"/><circle cx="503.76" cy="117.31" r="1.25"/><circle cx="502.35" cy="119.23" r="1.25"/><circle cx="500.02" cy="118.48" r="1.25"/><circle cx="500.83" cy="119.45" r="1.25"/><circle cx="504.94" cy="120.13" r="1.25"/><circle cx="504.27" cy="120.22" r="1.25"/><circle cx="504.88" cy="119.72" r="1.25"/><circle cx="507" cy="116.35" r="1.25"/><circle cx="508.68" cy="116.02" r="1.25"/><circle cx="510.25" cy="116.57" r="1.25"/><circle cx="508.12" cy="117.22" r="1.25"/><circle cx="510.55" cy="116.17" r="1.25"/><circle cx="507.66" cy="117.81" r="1.25"/><circle cx="508.73" cy="116.48" r="1.25"/></g>
<circle cx="502.8" cy="104.7" r="1.3" fill="#4d4d4d"/>
<circle cx="504.5" cy="109.1" r="1.3" fill="#4d4d4d"/>
<circle cx="506" cy="111.8" r="1.3" fill="#4d4d4d"/>
<circle cx="506.3" cy="113.5" r="1.3" fill="#4d4d4d"/>
<circle cx="499" cy="115.8" r="1.3" fill="#4d4d4d"/>
<circle cx="511" cy="113.8" r="1.3" fill="#4d4d4d"/>
<path d="M513,136.5 L513,120.3 L513.8,120.12 L514.6,120.25 L515.4,120.15 L516.2,120.22 L517,120.24 L517.8,120.14 L518.6,119.97 L519.4,120.01 L520.2,120.43 L521,120.23 L521,117.97 L521.74,118.42 L522.49,118.05 L523.23,117.96 L523.97,118.22 L524.71,118.05 L525.46,118.19 L526.2,118.23 L526.2,136.5Z" fill="#9c9c9c"/>
<g fill="#9c9c9c"><circle cx="514" cy="118.11" r="1.25"/><circle cx="515.11" cy="118.57" r="1.25"/><circle cx="516.19" cy="118.4" r="1.25"/><circle cx="517.63" cy="119.13" r="1.25"/><circle cx="519.35" cy="118.96" r="1.25"/><circle cx="518.38" cy="119.25" r="1.25"/><circle cx="519.06" cy="120.02" r="1.25"/><circle cx="514.95" cy="120.9" r="1.25"/><circle cx="517.39" cy="120.65" r="1.25"/><circle cx="514.73" cy="120.65" r="1.25"/><circle cx="514.23" cy="119.67" r="1.25"/><circle cx="522" cy="116.35" r="1.25"/><circle cx="523.59" cy="116.09" r="1.25"/><circle cx="523.34" cy="118.81" r="1.25"/><circle cx="524.02" cy="118.78" r="1.25"/><circle cx="523.82" cy="118.84" r="1.25"/><circle cx="524.88" cy="117.47" r="1.25"/></g>
<circle cx="525" cy="113.8" r="1.3" fill="#9c9c9c"/>
<path d="M527.1,136.5 L527.1,120.35 L528.05,120.1 L529,120.36 L529,116.91 L529.88,117 L530.75,116.57 L531.62,116.72 L532.5,116.94 L532.5,125.17 L533.25,125.03 L534,124.63 L534,119.56 L534.83,119.26 L535.66,119.53 L536.49,119.68 L537.31,119.27 L538.14,119.76 L538.97,119.61 L539.8,119.35 L539.8,136.5Z" fill="#4d4d4d"/>
<g fill="#4d4d4d"><circle cx="528" cy="120.12" r="1.25"/><circle cx="530" cy="115.69" r="1.25"/><circle cx="531.11" cy="114.38" r="1.25"/><circle cx="530.2" cy="116.91" r="1.25"/><circle cx="530.38" cy="117.12" r="1.25"/><circle cx="533.38" cy="124.1" r="1.25"/><circle cx="535" cy="118.45" r="1.25"/><circle cx="537.7" cy="117.6" r="1.25"/><circle cx="538.41" cy="119.99" r="1.25"/><circle cx="535.02" cy="118.82" r="1.25"/><circle cx="538.19" cy="119.81" r="1.25"/><circle cx="536.46" cy="119.47" r="1.25"/></g>
<circle cx="530.5" cy="113.8" r="1.3" fill="#4d4d4d"/>
<circle cx="532.7" cy="107.4" r="1.3" fill="#4d4d4d"/>
<circle cx="535.5" cy="113.5" r="1.3" fill="#4d4d4d"/>
<circle cx="537" cy="113.5" r="1.3" fill="#4d4d4d"/>
<path d="M540.6,136.5 L540.6,119.99 L541.42,120.41 L542.24,120.14 L543.06,120.42 L543.89,120.27 L544.71,119.95 L545.53,120.1 L546.35,120.03 L547.17,120.44 L547.99,120.25 L548.81,119.93 L549.64,120 L550.46,120.12 L551.28,120.18 L552.1,120.25 L552.1,136.5Z" fill="#9c9c9c"/>
<g fill="#9c9c9c"><circle cx="541.6" cy="118.37" r="1.25"/><circle cx="542.61" cy="118.68" r="1.25"/><circle cx="544.67" cy="117.98" r="1.25"/><circle cx="545.94" cy="118.19" r="1.25"/><circle cx="547.21" cy="118.66" r="1.25"/><circle cx="549.16" cy="119.34" r="1.25"/><circle cx="547.65" cy="120.44" r="1.25"/><circle cx="545.01" cy="119.78" r="1.25"/><circle cx="549.23" cy="120.79" r="1.25"/><circle cx="550.63" cy="120.51" r="1.25"/><circle cx="544.44" cy="120.63" r="1.25"/><circle cx="548.69" cy="120.23" r="1.25"/><circle cx="547.67" cy="119.93" r="1.25"/><circle cx="546.84" cy="120.04" r="1.25"/><circle cx="542.06" cy="119.9" r="1.25"/></g>
<circle cx="547" cy="114.9" r="1.3" fill="#9c9c9c"/>
<circle cx="551" cy="115.2" r="1.3" fill="#9c9c9c"/>
<path d="M552.9,136.5 L552.9,119.39 L553.67,119.79 L554.45,119.49 L555.23,119.42 L556,119.35 L556,117.34 L556.8,117.41 L557.6,117.28 L558.4,117.2 L559.2,117.72 L560,117.47 L560,120.17 L560.8,120.24 L561.6,120.08 L562.4,120 L563.2,119.94 L564,120.08 L564.8,120.09 L565.6,120.34 L565.6,136.5Z" fill="#4d4d4d"/>
<g fill="#4d4d4d"><circle cx="555.02" cy="119.66" r="1.25"/><circle cx="553.88" cy="118.81" r="1.25"/><circle cx="558.36" cy="116.29" r="1.25"/><circle cx="557.03" cy="117.49" r="1.25"/><circle cx="558.9" cy="117.06" r="1.25"/><circle cx="557.45" cy="116.13" r="1.25"/><circle cx="561" cy="118.01" r="1.25"/><circle cx="562.7" cy="118.1" r="1.25"/><circle cx="561.63" cy="120.59" r="1.25"/><circle cx="564.58" cy="120.39" r="1.25"/><circle cx="561.18" cy="120.7" r="1.25"/><circle cx="564.25" cy="119.91" r="1.25"/></g>
<circle cx="555.5" cy="112.2" r="1.3" fill="#4d4d4d"/>
<circle cx="555" cy="114.9" r="1.3" fill="#4d4d4d"/>
<circle cx="559.5" cy="112.7" r="1.3" fill="#4d4d4d"/>
<path d="M566.6,136.5 L566.6,119.98 L567.41,120.01 L568.21,120.22 L569.02,120.43 L569.83,120.28 L570.63,120.45 L571.44,120.03 L572.25,120.1 L573.05,120.35 L573.86,120.29 L574.67,120.14 L575.47,120.31 L576.28,120.1 L577.09,119.93 L577.89,120.15 L578.7,119.93 L578.7,136.5Z" fill="#9c9c9c"/>
<g fill="#9c9c9c"><circle cx="567.6" cy="118.75" r="1.25"/><circle cx="569.09" cy="118.71" r="1.25"/><circle cx="572.12" cy="119.33" r="1.25"/><circle cx="573.74" cy="118.91" r="1.25"/><circle cx="574.83" cy="118" r="1.25"/><circle cx="573.05" cy="120.37" r="1.25"/><circle cx="573.22" cy="120.48" r="1.25"/><circle cx="573.7" cy="119.89" r="1.25"/><circle cx="575.15" cy="119.72" r="1.25"/><circle cx="574.84" cy="120.63" r="1.25"/><circle cx="575.51" cy="119.84" r="1.25"/><circle cx="575.47" cy="120.92" r="1.25"/><circle cx="572.17" cy="119.77" r="1.25"/><circle cx="572.89" cy="120.88" r="1.25"/></g>
<circle cx="568" cy="107.8" r="1.3" fill="#9c9c9c"/>
<circle cx="568" cy="113.8" r="1.3" fill="#9c9c9c"/>
<circle cx="577" cy="111.1" r="1.3" fill="#9c9c9c"/>
<path d="M580.4,136.5 L580.4,121.98 L581.2,121.91 L582,122.19 L582,118.29 L582.75,118.36 L583.5,118.12 L584.25,118.49 L585,118.04 L585,120.35 L586,119.95 L587,119.92 L587,123.98 L587.77,123.94 L588.55,124.2 L589.33,124.23 L590.1,124.01 L590.1,136.5Z" fill="#4d4d4d"/>
<g fill="#4d4d4d"><circle cx="581.27" cy="121.96" r="1.25"/><circle cx="583" cy="115.99" r="1.25"/><circle cx="584.03" cy="117.46" r="1.25"/><circle cx="582.91" cy="118.66" r="1.25"/><circle cx="586.03" cy="119.92" r="1.25"/><circle cx="588" cy="123.03" r="1.25"/><circle cx="589.09" cy="123.27" r="1.25"/><circle cx="588.87" cy="123.09" r="1.25"/></g>
<circle cx="584" cy="114.9" r="1.3" fill="#4d4d4d"/>
<circle cx="586" cy="115.8" r="1.3" fill="#4d4d4d"/>
<path d="M591.8,136.5 L591.8,120.89 L592.64,120.74 L593.48,121.02 L594.32,120.54 L595.16,120.84 L596,120.75 L596,119.75 L596.85,119.77 L597.7,119.58 L598.55,119.33 L599.4,119.35 L600.25,119.36 L601.1,119.46 L601.1,136.5Z" fill="#9c9c9c"/>
<g fill="#9c9c9c"><circle cx="592.8" cy="118.72" r="1.25"/><circle cx="594.56" cy="119.38" r="1.25"/><circle cx="593.21" cy="120.94" r="1.25"/><circle cx="593.06" cy="121.37" r="1.25"/><circle cx="594.8" cy="120.34" r="1.25"/><circle cx="598.28" cy="117.58" r="1.25"/><circle cx="597.42" cy="119.82" r="1.25"/><circle cx="598.88" cy="119.43" r="1.25"/><circle cx="598.82" cy="120.1" r="1.25"/><circle cx="597.58" cy="120.1" r="1.25"/></g>
<circle cx="593.5" cy="112.5" r="1.3" fill="#9c9c9c"/>
<circle cx="597.5" cy="110.1" r="1.3" fill="#9c9c9c"/>
<circle cx="598.5" cy="114.1" r="1.3" fill="#9c9c9c"/>
<circle cx="600" cy="117.8" r="1.3" fill="#9c9c9c"/>
<path d="M602.9,136.5 L602.9,113.82 L603.67,114.07 L604.45,114.12 L605.23,113.71 L606,114.12 L606,117.8 L606.75,117.38 L607.5,117.21 L608.25,117.27 L609,117.78 L609,121.21 L609.7,121.75 L610.4,121.29 L611.1,121.64 L611.1,136.5Z" fill="#4d4d4d"/>
<g fill="#4d4d4d"><circle cx="603.9" cy="111.61" r="1.25"/><circle cx="603.9" cy="113.61" r="1.25"/><circle cx="605.01" cy="114.27" r="1.25"/><circle cx="607.17" cy="117.98" r="1.25"/><circle cx="607.74" cy="116.24" r="1.25"/><circle cx="610" cy="119.86" r="1.25"/><circle cx="609.91" cy="120.1" r="1.25"/></g>
<path d="M612,136.5 L612,120.49 L612.77,120.09 L613.53,120.43 L614.3,119.97 L615.07,120.19 L615.83,119.98 L616.6,120.16 L617.37,120.01 L618.13,120.31 L618.9,119.99 L619.67,120.34 L620.43,120.2 L621.2,119.97 L621.2,136.5Z" fill="#9c9c9c"/>
<g fill="#9c9c9c"><circle cx="613" cy="118.32" r="1.25"/><circle cx="614.92" cy="118.31" r="1.25"/><circle cx="616.89" cy="119.16" r="1.25"/><circle cx="618.16" cy="118.03" r="1.25"/><circle cx="619.23" cy="117.82" r="1.25"/><circle cx="617.02" cy="119.96" r="1.25"/><circle cx="612.95" cy="120.52" r="1.25"/><circle cx="617.74" cy="120.29" r="1.25"/><circle cx="616.96" cy="120.53" r="1.25"/><circle cx="620.19" cy="120.79" r="1.25"/><circle cx="618.22" cy="120.03" r="1.25"/><circle cx="615.25" cy="120.07" r="1.25"/></g>
<circle cx="617" cy="113.8" r="1.3" fill="#9c9c9c"/>
<circle cx="619" cy="113.8" r="1.3" fill="#9c9c9c"/>
<path d="M621.7,136.5 L621.7,117.08 L622.53,116.73 L623.35,116.73 L624.17,116.75 L625,116.59 L625,118.5 L625.85,117.9 L626.7,118.26 L627.55,118.46 L628.4,118.05 L629.25,118.27 L630.1,118.13 L630.1,136.5Z" fill="#4d4d4d"/>
<g fill="#4d4d4d"><circle cx="622.7" cy="114.74" r="1.25"/><circle cx="623.82" cy="115.7" r="1.25"/><circle cx="622.65" cy="117.13" r="1.25"/><circle cx="623.08" cy="117.06" r="1.25"/><circle cx="626" cy="116.63" r="1.25"/><circle cx="627.97" cy="115.75" r="1.25"/><circle cx="627.58" cy="118.37" r="1.25"/><circle cx="629.21" cy="117.66" r="1.25"/><circle cx="627.98" cy="118.61" r="1.25"/><circle cx="627.14" cy="118.56" r="1.25"/></g>
<circle cx="622.8" cy="108" r="1.3" fill="#4d4d4d"/>
<circle cx="625" cy="110.7" r="1.3" fill="#4d4d4d"/>
<circle cx="627" cy="114.5" r="1.3" fill="#4d4d4d"/>
<circle cx="629" cy="114.5" r="1.3" fill="#4d4d4d"/>
<path d="M630.8,136.5 L630.8,120.14 L631.53,120.22 L632.27,120.27 L633,120.31 L633,118.09 L633.8,118.28 L634.6,118.23 L635.4,118.03 L636.2,118.27 L637,118.06 L637,120.45 L637.75,120.18 L638.5,120.33 L638.5,136.5Z" fill="#9c9c9c"/>
<g fill="#9c9c9c"><circle cx="631.8" cy="118.59" r="1.25"/><circle cx="631.74" cy="120.86" r="1.25"/><circle cx="634" cy="116.6" r="1.25"/><circle cx="635.53" cy="117.05" r="1.25"/><circle cx="635.72" cy="118.15" r="1.25"/><circle cx="635.32" cy="118.72" r="1.25"/><circle cx="635.89" cy="118.78" r="1.25"/><circle cx="637.88" cy="119.99" r="1.25"/></g>
<circle cx="634.5" cy="115.8" r="1.3" fill="#9c9c9c"/>
<path d="M639.2,136.5 L639.2,119.7 L639.96,119.69 L640.72,119.27 L641.48,119.29 L642.24,119.35 L643,119.26 L643,118.11 L643.73,118.38 L644.45,118.21 L645.17,118.17 L645.9,117.95 L645.9,136.5Z" fill="#4d4d4d"/>
<g fill="#4d4d4d"><circle cx="641.9" cy="117.77" r="1.25"/><circle cx="641.63" cy="118.72" r="1.25"/><circle cx="641.47" cy="119.26" r="1.25"/><circle cx="641.14" cy="118.97" r="1.25"/><circle cx="644" cy="116.34" r="1.25"/><circle cx="643.9" cy="117.57" r="1.25"/><circle cx="644.53" cy="117.05" r="1.25"/></g>
<circle cx="640.2" cy="110.1" r="1.3" fill="#4d4d4d"/>
<circle cx="640.2" cy="112.5" r="1.3" fill="#4d4d4d"/>
<circle cx="644.5" cy="105.8" r="1.3" fill="#4d4d4d"/>
<circle cx="644.5" cy="108.7" r="1.3" fill="#4d4d4d"/>
<path d="M646.7,136.5 L646.7,120.01 L647.54,120.33 L648.38,120.06 L649.21,120.09 L650.05,120.05 L650.89,120.4 L651.73,119.95 L652.56,120.28 L653.4,120.42 L653.4,136.5Z" fill="#9c9c9c"/>
<g fill="#9c9c9c"><circle cx="647.7" cy="118.07" r="1.25"/><circle cx="649.49" cy="118.74" r="1.25"/><circle cx="650.54" cy="118.46" r="1.25"/><circle cx="652.25" cy="118.22" r="1.25"/><circle cx="651.59" cy="119.93" r="1.25"/><circle cx="649.48" cy="120.35" r="1.25"/><circle cx="652.15" cy="119.54" r="1.25"/><circle cx="652.38" cy="120.56" r="1.25"/><circle cx="649.42" cy="120.49" r="1.25"/></g>
<path d="M655.1,136.5 L655.1,124.8 L655.8,124.64 L656.5,125.05 L656.5,118.13 L657.5,118.22 L658.5,118.2 L658.5,124.24 L659.3,124.15 L659.3,136.5Z" fill="#4d4d4d"/>
<g fill="#4d4d4d"><circle cx="655.98" cy="125.07" r="1.25"/><circle cx="657.5" cy="116.49" r="1.25"/><circle cx="657.48" cy="118.17" r="1.25"/></g>
<path d="M661.2,136.5 L661.2,120.43 L661.95,120.16 L662.7,120.19 L663.45,120.21 L664.2,120.39 L664.95,120.3 L665.7,120.34 L665.7,136.5Z" fill="#9c9c9c"/>
<g fill="#9c9c9c"><circle cx="662.2" cy="118.39" r="1.25"/><circle cx="663.88" cy="118.64" r="1.25"/><circle cx="662.4" cy="119.62" r="1.25"/><circle cx="662.29" cy="120.71" r="1.25"/><circle cx="662.35" cy="119.19" r="1.25"/></g>
<path d="M666.2,136.5 L666.2,121.65 L667.03,121.54 L667.86,121.23 L668.69,121.61 L669.51,121.63 L670.34,121.49 L671.17,121.23 L672,121.61 L672,120.75 L672.77,120.85 L673.55,121.1 L674.32,120.99 L675.09,121.02 L675.86,120.59 L676.64,120.7 L677.41,120.81 L678.18,120.5 L678.95,121.09 L679.73,120.66 L680.5,120.66 L680.5,136.5Z" fill="#4d4d4d"/>
<g fill="#4d4d4d"><circle cx="667.2" cy="119.55" r="1.25"/><circle cx="669.06" cy="119.94" r="1.25"/><circle cx="670.48" cy="119.13" r="1.25"/><circle cx="670.32" cy="122.06" r="1.25"/><circle cx="668.12" cy="120.87" r="1.25"/><circle cx="667.29" cy="121.58" r="1.25"/><circle cx="668.59" cy="121.45" r="1.25"/><circle cx="673" cy="119.13" r="1.25"/><circle cx="674.37" cy="119.63" r="1.25"/><circle cx="676.29" cy="119.24" r="1.25"/><circle cx="677.6" cy="119.2" r="1.25"/><circle cx="679.16" cy="118.87" r="1.25"/><circle cx="674.84" cy="121.16" r="1.25"/><circle cx="678.29" cy="120.97" r="1.25"/><circle cx="675.94" cy="121.47" r="1.25"/><circle cx="675.88" cy="121.39" r="1.25"/><circle cx="673.26" cy="120.7" r="1.25"/><circle cx="677.19" cy="119.6" r="1.25"/></g>
<circle cx="674" cy="121.9" r="1.4" fill="#fff"/>
<circle cx="682.5" cy="133.3" r="1" fill="#9c9c9c"/>
<rect x="504.5" y="28.1" width="4.6" height="4.6" fill="#e1191f"/>
<path d="M659.4,56.5 L665.4,56.5 L662.4,51.5Z" fill="#e1191f"/>
<line x1="656.3" y1="46.3" x2="661" y2="51.6" stroke="#999" stroke-width="0.5" />
<circle cx="605" cy="77.4" r="2.4" fill="#e1191f"/>
<line x1="606.8" y1="75.5" x2="613.8" y2="68.8" stroke="#999" stroke-width="0.5" />
<text transform="translate(509,34.8) scale(0.875,1)" font-size="9.6" font-weight="normal" font-style="italic" text-anchor="start" fill="#231f20"  stroke="#231f20" stroke-width="0.3">MUC12</text>
<text transform="translate(626,46.1) scale(0.875,1)" font-size="9.6" font-weight="normal" font-style="italic" text-anchor="start" fill="#231f20"  stroke="#231f20" stroke-width="0.3">RIMBP3</text>
<text transform="translate(613.5,68.9) scale(0.875,1)" font-size="9.6" font-weight="normal" font-style="italic" text-anchor="start" fill="#231f20"  stroke="#231f20" stroke-width="0.3">GOLGA8B</text>
<line x1="384.4" y1="208.6" x2="384.4" y2="318.5" stroke="#5c5c5c" stroke-width="0.95" />
<line x1="381.6" y1="318.2" x2="384.4" y2="318.2" stroke="#5c5c5c" stroke-width="0.95" />
<text transform="translate(379.4,321.2) scale(0.84,1)" font-size="9.6" font-weight="bold" font-style="normal" text-anchor="end" fill="#231f20"  stroke="#231f20" stroke-width="0.15">0</text>
<line x1="381.6" y1="301.4" x2="384.4" y2="301.4" stroke="#5c5c5c" stroke-width="0.95" />
<text transform="translate(379.4,304.4) scale(0.84,1)" font-size="9.6" font-weight="bold" font-style="normal" text-anchor="end" fill="#231f20"  stroke="#231f20" stroke-width="0.15">2</text>
<line x1="381.6" y1="284.6" x2="384.4" y2="284.6" stroke="#5c5c5c" stroke-width="0.95" />
<text transform="translate(379.4,287.6) scale(0.84,1)" font-size="9.6" font-weight="bold" font-style="normal" text-anchor="end" fill="#231f20"  stroke="#231f20" stroke-width="0.15">4</text>
<line x1="381.6" y1="267.8" x2="384.4" y2="267.8" stroke="#5c5c5c" stroke-width="0.95" />
<text transform="translate(379.4,270.8) scale(0.84,1)" font-size="9.6" font-weight="bold" font-style="normal" text-anchor="end" fill="#231f20"  stroke="#231f20" stroke-width="0.15">6</text>
<line x1="381.6" y1="251" x2="384.4" y2="251" stroke="#5c5c5c" stroke-width="0.95" />
<text transform="translate(379.4,254) scale(0.84,1)" font-size="9.6" font-weight="bold" font-style="normal" text-anchor="end" fill="#231f20"  stroke="#231f20" stroke-width="0.15">8</text>
<line x1="381.6" y1="234.2" x2="384.4" y2="234.2" stroke="#5c5c5c" stroke-width="0.95" />
<text transform="translate(379.4,237.2) scale(0.84,1)" font-size="9.6" font-weight="bold" font-style="normal" text-anchor="end" fill="#231f20"  stroke="#231f20" stroke-width="0.15">10</text>
<line x1="381.6" y1="217.4" x2="384.4" y2="217.4" stroke="#5c5c5c" stroke-width="0.95" />
<text transform="translate(379.4,220.4) scale(0.84,1)" font-size="9.6" font-weight="bold" font-style="normal" text-anchor="end" fill="#231f20"  stroke="#231f20" stroke-width="0.15">12</text>
<line x1="384.3" y1="322.5" x2="682.5" y2="322.5" stroke="#939393" stroke-width="1.0" />
<line x1="384.7" y1="322.8" x2="384.7" y2="325.4" stroke="#7a7a7a" stroke-width="0.9" />
<line x1="397.1" y1="322.8" x2="397.1" y2="325.4" stroke="#7a7a7a" stroke-width="0.9" />
<line x1="418.5" y1="322.8" x2="418.5" y2="325.4" stroke="#7a7a7a" stroke-width="0.9" />
<line x1="438.4" y1="322.8" x2="438.4" y2="325.4" stroke="#7a7a7a" stroke-width="0.9" />
<line x1="456.1" y1="322.8" x2="456.1" y2="325.4" stroke="#7a7a7a" stroke-width="0.9" />
<line x1="473.1" y1="322.8" x2="473.1" y2="325.4" stroke="#7a7a7a" stroke-width="0.9" />
<line x1="489.4" y1="322.8" x2="489.4" y2="325.4" stroke="#7a7a7a" stroke-width="0.9" />
<line x1="505.3" y1="322.8" x2="505.3" y2="325.4" stroke="#7a7a7a" stroke-width="0.9" />
<line x1="519.5" y1="322.8" x2="519.5" y2="325.4" stroke="#7a7a7a" stroke-width="0.9" />
<line x1="533.5" y1="322.8" x2="533.5" y2="325.4" stroke="#7a7a7a" stroke-width="0.9" />
<line x1="546.4" y1="322.8" x2="546.4" y2="325.4" stroke="#7a7a7a" stroke-width="0.9" />
<line x1="559.4" y1="322.8" x2="559.4" y2="325.4" stroke="#7a7a7a" stroke-width="0.9" />
<line x1="572.6" y1="322.8" x2="572.6" y2="325.4" stroke="#7a7a7a" stroke-width="0.9" />
<line x1="584.6" y1="322.8" x2="584.6" y2="325.4" stroke="#7a7a7a" stroke-width="0.9" />
<line x1="595.6" y1="322.8" x2="595.6" y2="325.4" stroke="#7a7a7a" stroke-width="0.9" />
<line x1="606.5" y1="322.8" x2="606.5" y2="325.4" stroke="#7a7a7a" stroke-width="0.9" />
<line x1="616.4" y1="322.8" x2="616.4" y2="325.4" stroke="#7a7a7a" stroke-width="0.9" />
<line x1="625.4" y1="322.8" x2="625.4" y2="325.4" stroke="#7a7a7a" stroke-width="0.9" />
<line x1="634.6" y1="322.8" x2="634.6" y2="325.4" stroke="#7a7a7a" stroke-width="0.9" />
<line x1="642.5" y1="322.8" x2="642.5" y2="325.4" stroke="#7a7a7a" stroke-width="0.9" />
<line x1="649.7" y1="322.8" x2="649.7" y2="325.4" stroke="#7a7a7a" stroke-width="0.9" />
<line x1="656.5" y1="322.8" x2="656.5" y2="325.4" stroke="#7a7a7a" stroke-width="0.9" />
<line x1="662.4" y1="322.8" x2="662.4" y2="325.4" stroke="#7a7a7a" stroke-width="0.9" />
<line x1="673.6" y1="322.8" x2="673.6" y2="325.4" stroke="#7a7a7a" stroke-width="0.9" />
<line x1="682.3" y1="322.8" x2="682.3" y2="325.4" stroke="#7a7a7a" stroke-width="0.9" />
<text transform="translate(418.5,335) scale(0.84,1)" font-size="9.6" font-weight="bold" font-style="normal" text-anchor="middle" fill="#231f20"  stroke="#231f20" stroke-width="0.15">2</text>
<text transform="translate(438.4,335) scale(0.84,1)" font-size="9.6" font-weight="bold" font-style="normal" text-anchor="middle" fill="#231f20"  stroke="#231f20" stroke-width="0.15">3</text>
<text transform="translate(456.1,335) scale(0.84,1)" font-size="9.6" font-weight="bold" font-style="normal" text-anchor="middle" fill="#231f20"  stroke="#231f20" stroke-width="0.15">4</text>
<text transform="translate(473.1,335) scale(0.84,1)" font-size="9.6" font-weight="bold" font-style="normal" text-anchor="middle" fill="#231f20"  stroke="#231f20" stroke-width="0.15">5</text>
<text transform="translate(489.5,335) scale(0.84,1)" font-size="9.6" font-weight="bold" font-style="normal" text-anchor="middle" fill="#231f20"  stroke="#231f20" stroke-width="0.15">6</text>
<text transform="translate(505.3,335) scale(0.84,1)" font-size="9.6" font-weight="bold" font-style="normal" text-anchor="middle" fill="#231f20"  stroke="#231f20" stroke-width="0.15">7</text>
<text transform="translate(519.4,335) scale(0.84,1)" font-size="9.6" font-weight="bold" font-style="normal" text-anchor="middle" fill="#231f20"  stroke="#231f20" stroke-width="0.15">8</text>
<text transform="translate(533.5,335) scale(0.84,1)" font-size="9.6" font-weight="bold" font-style="normal" text-anchor="middle" fill="#231f20"  stroke="#231f20" stroke-width="0.15">9</text>
<text transform="translate(559.5,335) scale(0.84,1)" font-size="9.6" font-weight="bold" font-style="normal" text-anchor="middle" fill="#231f20"  stroke="#231f20" stroke-width="0.15">11</text>
<text transform="translate(584.6,335) scale(0.84,1)" font-size="9.6" font-weight="bold" font-style="normal" text-anchor="middle" fill="#231f20"  stroke="#231f20" stroke-width="0.15">13</text>
<text transform="translate(606.5,335) scale(0.84,1)" font-size="9.6" font-weight="bold" font-style="normal" text-anchor="middle" fill="#231f20"  stroke="#231f20" stroke-width="0.15">15</text>
<text transform="translate(625.4,335) scale(0.84,1)" font-size="9.6" font-weight="bold" font-style="normal" text-anchor="middle" fill="#231f20"  stroke="#231f20" stroke-width="0.15">17</text>
<text transform="translate(642.5,335) scale(0.84,1)" font-size="9.6" font-weight="bold" font-style="normal" text-anchor="middle" fill="#231f20"  stroke="#231f20" stroke-width="0.15">19</text>
<text transform="translate(662.3,335) scale(0.84,1)" font-size="9.6" font-weight="bold" font-style="normal" text-anchor="middle" fill="#231f20"  stroke="#231f20" stroke-width="0.15">22</text>
<text transform="translate(682.1,335) scale(0.84,1)" font-size="9.6" font-weight="bold" font-style="normal" text-anchor="middle" fill="#231f20"  stroke="#231f20" stroke-width="0.15">Y</text>
<text transform="translate(378.1,335) scale(0.84,1)" font-size="9.6" font-weight="bold" font-style="normal" text-anchor="start" fill="#231f20"  stroke="#231f20" stroke-width="0.15">Chr</text>
<line x1="386" y1="267.8" x2="682.5" y2="267.8" stroke="#f2b2b2" stroke-width="1.1" stroke-dasharray="1 1"/>
<line x1="386" y1="284.6" x2="682.5" y2="284.6" stroke="#f2b2b2" stroke-width="1.1" stroke-dasharray="1 1"/>
<text transform="translate(366,263.5) rotate(-90)" text-anchor="middle" font-size="14" fill="#231f20">&#8211;log<tspan font-size="8.5" dy="1">10</tspan><tspan dy="-1" font-size="15">(</tspan><tspan font-style="italic">p</tspan><tspan font-size="15">)</tspan></text>
<text transform="translate(527.7,202) scale(0.906,1)" font-size="15.4" font-weight="normal" font-style="normal" text-anchor="middle" fill="#231f20" >COVID-19 vs CNRP</text>
<text transform="translate(362.4,187.4) scale(1,1)" font-size="12" font-weight="bold" font-style="normal" text-anchor="start" fill="#231f20" stroke="#231f20" stroke-width="0.35">d</text>
<path d="M386.1,319.2 L386.1,308.52 L386.88,308.04 L387.66,308.36 L388.44,308.11 L389.22,308.55 L390,308.34 L390,302.78 L391,302.6 L392,302.7 L392,309.8 L392.75,309.58 L393.5,309.53 L394.25,309.9 L395,309.49 L395,305.75 L396,305.32 L397,305.26 L397,310.26 L398,310.67 L398,304.97 L398.8,304.65 L399.6,304.8 L400.4,304.55 L401.2,304.94 L402,304.81 L402,300.99 L403,300.93 L404,301.32 L404,305.83 L404.74,306.3 L405.48,305.98 L406.22,305.94 L406.96,306.15 L407.7,305.99 L407.7,319.2Z" fill="#4d4d4d"/>
<g fill="#4d4d4d"><circle cx="387.1" cy="305.25" r="1.25"/><circle cx="387.67" cy="308.72" r="1.25"/><circle cx="387.3" cy="308.63" r="1.25"/><circle cx="389.08" cy="307.55" r="1.25"/><circle cx="387.05" cy="307.52" r="1.25"/><circle cx="388.35" cy="306.94" r="1.25"/><circle cx="391" cy="299.52" r="1.25"/><circle cx="391.06" cy="301.97" r="1.25"/><circle cx="391.04" cy="300.7" r="1.25"/><circle cx="393" cy="307.08" r="1.25"/><circle cx="394.12" cy="310.33" r="1.25"/><circle cx="393.53" cy="308.61" r="1.25"/><circle cx="393.31" cy="309.91" r="1.25"/><circle cx="393.5" cy="310.31" r="1.25"/><circle cx="396" cy="301.7" r="1.25"/><circle cx="396.02" cy="305.19" r="1.25"/><circle cx="395.9" cy="303.75" r="1.25"/><circle cx="397.88" cy="311.03" r="1.25"/><circle cx="399" cy="302.1" r="1.25"/><circle cx="400.92" cy="300.8" r="1.25"/><circle cx="399.65" cy="305.34" r="1.25"/><circle cx="400.35" cy="302.34" r="1.25"/><circle cx="399.62" cy="304.13" r="1.25"/><circle cx="399.43" cy="304.9" r="1.25"/><circle cx="399.28" cy="305" r="1.25"/><circle cx="403" cy="297.73" r="1.25"/><circle cx="402.9" cy="300.92" r="1.25"/><circle cx="403.07" cy="301.04" r="1.25"/><circle cx="405" cy="302.89" r="1.25"/><circle cx="406.51" cy="302.31" r="1.25"/><circle cx="406" cy="305.23" r="1.25"/><circle cx="405.61" cy="306.11" r="1.25"/><circle cx="405.19" cy="304.5" r="1.25"/><circle cx="406.71" cy="305.15" r="1.25"/><circle cx="406.52" cy="306.59" r="1.25"/></g>
<circle cx="388.3" cy="289.3" r="1.3" fill="#4d4d4d"/>
<circle cx="388.3" cy="296.7" r="1.3" fill="#4d4d4d"/>
<circle cx="388.5" cy="300.5" r="1.3" fill="#4d4d4d"/>
<circle cx="394.5" cy="299.5" r="1.3" fill="#4d4d4d"/>
<circle cx="399.5" cy="292.5" r="1.3" fill="#4d4d4d"/>
<circle cx="404" cy="290.7" r="1.3" fill="#4d4d4d"/>
<circle cx="402.5" cy="296" r="1.3" fill="#4d4d4d"/>
<circle cx="407" cy="300" r="1.3" fill="#4d4d4d"/>
<path d="M408.5,319.2 L408.5,308.99 L409.38,308.79 L410.25,308.76 L411.12,309.23 L412,308.77 L412,307.6 L412.78,307.62 L413.56,307.37 L414.33,307.58 L415.11,307.4 L415.89,307.62 L416.67,307.6 L417.44,307.52 L418.22,307.42 L419,307.54 L419.78,307.42 L420.56,307.38 L421.33,307.44 L422.11,307.82 L422.89,307.6 L423.67,307.83 L424.44,307.31 L425.22,307.87 L426,307.59 L426,309.17 L426.82,309.04 L427.65,309.11 L428.48,308.84 L429.3,309.15 L429.3,319.2Z" fill="#9c9c9c"/>
<g fill="#9c9c9c"><circle cx="409.5" cy="305.3" r="1.25"/><circle cx="410.53" cy="305.68" r="1.25"/><circle cx="410.93" cy="306.91" r="1.25"/><circle cx="410.39" cy="307.68" r="1.25"/><circle cx="410.42" cy="309.29" r="1.25"/><circle cx="410.62" cy="306.75" r="1.25"/><circle cx="413" cy="304.04" r="1.25"/><circle cx="414.98" cy="303.72" r="1.25"/><circle cx="416.67" cy="304.95" r="1.25"/><circle cx="419.5" cy="305.15" r="1.25"/><circle cx="420.9" cy="303.79" r="1.25"/><circle cx="422.64" cy="304.74" r="1.25"/><circle cx="423.98" cy="303.87" r="1.25"/><circle cx="416.93" cy="308.3" r="1.25"/><circle cx="425.09" cy="307.91" r="1.25"/><circle cx="418.75" cy="307.17" r="1.25"/><circle cx="422.42" cy="308.16" r="1.25"/><circle cx="422.08" cy="307.54" r="1.25"/><circle cx="415.31" cy="307.51" r="1.25"/><circle cx="423.24" cy="307.9" r="1.25"/><circle cx="414.01" cy="307.74" r="1.25"/><circle cx="417.15" cy="305.96" r="1.25"/><circle cx="424.71" cy="307.63" r="1.25"/><circle cx="422.01" cy="305.82" r="1.25"/><circle cx="423.02" cy="308.22" r="1.25"/><circle cx="423.96" cy="307.8" r="1.25"/><circle cx="423.07" cy="307.93" r="1.25"/><circle cx="420.11" cy="306.99" r="1.25"/><circle cx="422.98" cy="307.89" r="1.25"/><circle cx="423.54" cy="306.54" r="1.25"/><circle cx="424.65" cy="307.27" r="1.25"/><circle cx="424.46" cy="305.71" r="1.25"/><circle cx="427" cy="306.6" r="1.25"/><circle cx="428.25" cy="306.39" r="1.25"/><circle cx="427.58" cy="307.7" r="1.25"/><circle cx="427.64" cy="309.56" r="1.25"/><circle cx="427.94" cy="309.12" r="1.25"/><circle cx="427.48" cy="309.29" r="1.25"/></g>
<circle cx="412" cy="298.1" r="1.3" fill="#9c9c9c"/>
<circle cx="416" cy="297.4" r="1.3" fill="#9c9c9c"/>
<circle cx="418" cy="297.2" r="1.3" fill="#9c9c9c"/>
<circle cx="421" cy="297.2" r="1.3" fill="#9c9c9c"/>
<circle cx="424.5" cy="297.4" r="1.3" fill="#9c9c9c"/>
<circle cx="417" cy="301.6" r="1.3" fill="#9c9c9c"/>
<circle cx="420" cy="301" r="1.3" fill="#9c9c9c"/>
<circle cx="427" cy="300.5" r="1.3" fill="#9c9c9c"/>
<circle cx="412.5" cy="302.3" r="1.3" fill="#9c9c9c"/>
<circle cx="414" cy="299.5" r="1.3" fill="#9c9c9c"/>
<circle cx="419.5" cy="299.2" r="1.3" fill="#9c9c9c"/>
<circle cx="422.5" cy="299" r="1.3" fill="#9c9c9c"/>
<circle cx="426" cy="298.5" r="1.3" fill="#9c9c9c"/>
<path d="M430,319.2 L430,309.18 L430.75,309.11 L431.5,309.27 L432.25,309.2 L433,308.94 L433,306.55 L433.75,306.89 L434.5,307 L435.25,306.7 L436,306.86 L436,312 L436.8,311.98 L437.6,311.5 L438.4,311.79 L439.2,311.51 L440,311.57 L440,309.19 L440.77,308.95 L441.53,309.06 L442.3,308.97 L443.07,308.9 L443.83,308.83 L444.6,308.91 L445.37,309.21 L446.13,309.07 L446.9,308.88 L446.9,319.2Z" fill="#4d4d4d"/>
<g fill="#4d4d4d"><circle cx="431" cy="305.19" r="1.25"/><circle cx="431.43" cy="309" r="1.25"/><circle cx="431.88" cy="307.14" r="1.25"/><circle cx="431.73" cy="306.57" r="1.25"/><circle cx="431.9" cy="307.47" r="1.25"/><circle cx="434.16" cy="307.32" r="1.25"/><circle cx="434.64" cy="307.33" r="1.25"/><circle cx="434.37" cy="306.38" r="1.25"/><circle cx="435.07" cy="306.4" r="1.25"/><circle cx="437" cy="309.43" r="1.25"/><circle cx="438.83" cy="308.11" r="1.25"/><circle cx="437.27" cy="312.44" r="1.25"/><circle cx="437.9" cy="312.15" r="1.25"/><circle cx="437.44" cy="310.92" r="1.25"/><circle cx="437.1" cy="311.52" r="1.25"/><circle cx="438.82" cy="311.42" r="1.25"/><circle cx="442.89" cy="306.12" r="1.25"/><circle cx="445.88" cy="306.11" r="1.25"/><circle cx="443.56" cy="309.04" r="1.25"/><circle cx="445.55" cy="308.57" r="1.25"/><circle cx="442.75" cy="309.7" r="1.25"/><circle cx="441.17" cy="309.4" r="1.25"/><circle cx="444.4" cy="308.74" r="1.25"/><circle cx="443.18" cy="309.22" r="1.25"/><circle cx="445.46" cy="309.16" r="1.25"/><circle cx="444.74" cy="306.5" r="1.25"/><circle cx="442.55" cy="307.23" r="1.25"/></g>
<circle cx="436.5" cy="297.2" r="1.3" fill="#4d4d4d"/>
<circle cx="440.5" cy="301" r="1.3" fill="#4d4d4d"/>
<circle cx="443.5" cy="302" r="1.3" fill="#4d4d4d"/>
<circle cx="434.5" cy="302" r="1.3" fill="#4d4d4d"/>
<path d="M447.9,319.2 L447.9,307.77 L448.72,307.73 L449.54,307.29 L450.36,307.55 L451.18,307.55 L452,307.23 L452,308.24 L452.75,308.45 L453.5,308.38 L454.25,308.17 L455,308.46 L455.75,308.17 L456.5,308.33 L457.25,308.25 L458,308.59 L458,309.79 L458.8,309.88 L459.6,309.81 L460.4,309.63 L461.2,309.98 L462,309.83 L462.8,309.81 L463.6,309.57 L464.4,309.5 L464.4,319.2Z" fill="#9c9c9c"/>
<g fill="#9c9c9c"><circle cx="450.69" cy="304.11" r="1.25"/><circle cx="450.84" cy="305.86" r="1.25"/><circle cx="450.51" cy="305.9" r="1.25"/><circle cx="449.51" cy="305.18" r="1.25"/><circle cx="449.47" cy="306.73" r="1.25"/><circle cx="451.05" cy="308.17" r="1.25"/><circle cx="453" cy="304.65" r="1.25"/><circle cx="454.94" cy="304.67" r="1.25"/><circle cx="456.38" cy="304.52" r="1.25"/><circle cx="454.51" cy="308.98" r="1.25"/><circle cx="454.01" cy="306.86" r="1.25"/><circle cx="456.74" cy="307.73" r="1.25"/><circle cx="456.43" cy="308.24" r="1.25"/><circle cx="456.18" cy="307.29" r="1.25"/><circle cx="453.52" cy="308.53" r="1.25"/><circle cx="454.87" cy="308.04" r="1.25"/><circle cx="455.73" cy="308.52" r="1.25"/><circle cx="459" cy="306.19" r="1.25"/><circle cx="460.92" cy="306.6" r="1.25"/><circle cx="462.55" cy="306.17" r="1.25"/><circle cx="462.72" cy="309.46" r="1.25"/><circle cx="460.52" cy="310.33" r="1.25"/><circle cx="460.11" cy="308.42" r="1.25"/><circle cx="459.2" cy="309.41" r="1.25"/><circle cx="462.38" cy="309.74" r="1.25"/><circle cx="460.79" cy="310.05" r="1.25"/><circle cx="459.39" cy="308.67" r="1.25"/><circle cx="461.87" cy="310.38" r="1.25"/></g>
<circle cx="450" cy="301.4" r="1.3" fill="#9c9c9c"/>
<circle cx="452" cy="300.2" r="1.3" fill="#9c9c9c"/>
<circle cx="454.5" cy="299.1" r="1.3" fill="#9c9c9c"/>
<circle cx="458" cy="300" r="1.3" fill="#9c9c9c"/>
<circle cx="461" cy="301" r="1.3" fill="#9c9c9c"/>
<circle cx="463.5" cy="304.7" r="1.3" fill="#9c9c9c"/>
<path d="M465.1,319.2 L465.1,311.18 L465.83,311.22 L466.55,311.26 L467.27,311.04 L468,311.36 L468,309.35 L468.8,309.11 L469.6,309.14 L470.4,309.38 L471.2,309.11 L472,309.01 L472,307.72 L472.75,307.52 L473.5,307.51 L474.25,307.6 L475,307.74 L475.75,307.28 L476.5,307.4 L477.25,307.24 L478,307.45 L478,309.7 L478.8,309.91 L479.6,309.8 L480.4,309.75 L481.2,309.64 L481.2,319.2Z" fill="#4d4d4d"/>
<g fill="#4d4d4d"><circle cx="466.1" cy="308.07" r="1.25"/><circle cx="466.88" cy="311.51" r="1.25"/><circle cx="466.15" cy="311.13" r="1.25"/><circle cx="466.84" cy="310.68" r="1.25"/><circle cx="467.01" cy="311.64" r="1.25"/><circle cx="470.65" cy="306.66" r="1.25"/><circle cx="470.46" cy="309.08" r="1.25"/><circle cx="469.49" cy="306.99" r="1.25"/><circle cx="470.23" cy="309.58" r="1.25"/><circle cx="469.49" cy="307.8" r="1.25"/><circle cx="469.38" cy="307.18" r="1.25"/><circle cx="474.8" cy="304.13" r="1.25"/><circle cx="475.87" cy="304.89" r="1.25"/><circle cx="476.88" cy="304.56" r="1.25"/><circle cx="473.13" cy="306.92" r="1.25"/><circle cx="475.23" cy="307.84" r="1.25"/><circle cx="473.04" cy="307.89" r="1.25"/><circle cx="473.34" cy="306.15" r="1.25"/><circle cx="475.55" cy="306.58" r="1.25"/><circle cx="474.28" cy="307.27" r="1.25"/><circle cx="473.8" cy="307.81" r="1.25"/><circle cx="473.76" cy="307.91" r="1.25"/><circle cx="479" cy="307.04" r="1.25"/><circle cx="480.03" cy="306.99" r="1.25"/><circle cx="479.49" cy="307.45" r="1.25"/><circle cx="479.79" cy="309.85" r="1.25"/><circle cx="479.72" cy="308.98" r="1.25"/><circle cx="479.62" cy="309.52" r="1.25"/></g>
<circle cx="469.5" cy="295.8" r="1.3" fill="#4d4d4d"/>
<circle cx="475.5" cy="295.1" r="1.3" fill="#4d4d4d"/>
<circle cx="469.5" cy="302.8" r="1.3" fill="#4d4d4d"/>
<circle cx="477.5" cy="301.4" r="1.3" fill="#4d4d4d"/>
<circle cx="478.5" cy="304.2" r="1.3" fill="#4d4d4d"/>
<path d="M482.3,319.2 L482.3,306.64 L483.15,307.02 L484,307.1 L484,303.48 L484.8,303.58 L485.6,303.2 L486.4,303.59 L487.2,303.04 L488,303.29 L488,308.08 L488.8,308.27 L489.6,308.41 L490.4,308.43 L491.2,308.27 L492,308.21 L492.8,308.11 L493.6,308.24 L494.4,308.17 L495.2,308.12 L496,308.44 L496.8,308.31 L496.8,319.2Z" fill="#9c9c9c"/>
<g fill="#9c9c9c"><circle cx="483.18" cy="305.33" r="1.25"/><circle cx="483.18" cy="305.32" r="1.25"/><circle cx="485" cy="299.77" r="1.25"/><circle cx="486.7" cy="300.91" r="1.25"/><circle cx="486.94" cy="303.45" r="1.25"/><circle cx="486.49" cy="301.05" r="1.25"/><circle cx="485.34" cy="300.51" r="1.25"/><circle cx="486.82" cy="303.45" r="1.25"/><circle cx="486.29" cy="302.1" r="1.25"/><circle cx="489" cy="304.92" r="1.25"/><circle cx="490.63" cy="305.94" r="1.25"/><circle cx="491.68" cy="304.63" r="1.25"/><circle cx="493.58" cy="305.64" r="1.25"/><circle cx="494.68" cy="304.52" r="1.25"/><circle cx="492.2" cy="309.03" r="1.25"/><circle cx="495.3" cy="308.62" r="1.25"/><circle cx="492.23" cy="308.68" r="1.25"/><circle cx="489.78" cy="306.37" r="1.25"/><circle cx="492.85" cy="307.9" r="1.25"/><circle cx="490.35" cy="307.06" r="1.25"/><circle cx="489.02" cy="308.86" r="1.25"/><circle cx="493.88" cy="308.94" r="1.25"/><circle cx="495.79" cy="307.69" r="1.25"/><circle cx="494.04" cy="307.53" r="1.25"/><circle cx="494.6" cy="308.72" r="1.25"/><circle cx="489.82" cy="305.5" r="1.25"/></g>
<circle cx="484.3" cy="290.1" r="1.3" fill="#9c9c9c"/>
<circle cx="483" cy="294.9" r="1.3" fill="#9c9c9c"/>
<circle cx="486" cy="301" r="1.3" fill="#9c9c9c"/>
<circle cx="492.5" cy="302" r="1.3" fill="#9c9c9c"/>
<circle cx="495" cy="301" r="1.3" fill="#9c9c9c"/>
<path d="M497.9,319.2 L497.9,308.83 L498.69,309.05 L499.48,308.93 L500.27,308.71 L501.06,309.2 L501.84,309.17 L502.63,308.98 L503.42,308.73 L504.21,309.23 L505,309.02 L505,305.84 L505.77,305.99 L506.53,306.17 L507.3,306.33 L508.07,306.09 L508.83,306.18 L509.6,305.92 L510.37,305.95 L511.13,306.34 L511.9,306.03 L511.9,319.2Z" fill="#4d4d4d"/>
<g fill="#4d4d4d"><circle cx="498.9" cy="305.22" r="1.25"/><circle cx="500.03" cy="305.37" r="1.25"/><circle cx="501.61" cy="306.07" r="1.25"/><circle cx="503.05" cy="305.16" r="1.25"/><circle cx="501.29" cy="308.28" r="1.25"/><circle cx="502.37" cy="309.13" r="1.25"/><circle cx="500.06" cy="308.97" r="1.25"/><circle cx="502.48" cy="308.5" r="1.25"/><circle cx="499.53" cy="309.56" r="1.25"/><circle cx="501.98" cy="306.75" r="1.25"/><circle cx="500.05" cy="309.72" r="1.25"/><circle cx="500" cy="308.26" r="1.25"/><circle cx="502.99" cy="309.38" r="1.25"/><circle cx="506" cy="303.16" r="1.25"/><circle cx="508.84" cy="302.21" r="1.25"/><circle cx="510.08" cy="303.64" r="1.25"/><circle cx="510.67" cy="306.05" r="1.25"/><circle cx="510.61" cy="304.9" r="1.25"/><circle cx="506.67" cy="303.39" r="1.25"/><circle cx="509.77" cy="304.14" r="1.25"/><circle cx="510.89" cy="306.22" r="1.25"/><circle cx="506.84" cy="306.44" r="1.25"/><circle cx="506.71" cy="305.71" r="1.25"/><circle cx="506.42" cy="306.4" r="1.25"/><circle cx="510.46" cy="306.68" r="1.25"/></g>
<circle cx="502.5" cy="289.3" r="1.3" fill="#4d4d4d"/>
<circle cx="506" cy="296" r="1.3" fill="#4d4d4d"/>
<circle cx="500" cy="300" r="1.3" fill="#4d4d4d"/>
<circle cx="503" cy="299.5" r="1.3" fill="#4d4d4d"/>
<circle cx="509" cy="298.6" r="1.3" fill="#4d4d4d"/>
<circle cx="506.5" cy="300.2" r="1.3" fill="#4d4d4d"/>
<circle cx="509.5" cy="298.6" r="1.3" fill="#4d4d4d"/>
<path d="M513,319.2 L513,309.4 L513.75,309.91 L514.5,309.73 L515.25,309.89 L516,309.7 L516,308.37 L516.78,308.36 L517.57,308.48 L518.35,308.05 L519.14,308.03 L519.92,308.33 L520.71,308.17 L521.49,308.24 L522.28,308 L523.06,308.45 L523.85,308.01 L524.63,308.5 L525.42,308.49 L526.2,308.27 L526.2,319.2Z" fill="#9c9c9c"/>
<g fill="#9c9c9c"><circle cx="514" cy="305.95" r="1.25"/><circle cx="514.41" cy="307.78" r="1.25"/><circle cx="515.1" cy="309.41" r="1.25"/><circle cx="514.32" cy="307.68" r="1.25"/><circle cx="514.79" cy="310.14" r="1.25"/><circle cx="517" cy="305.71" r="1.25"/><circle cx="518.37" cy="304.83" r="1.25"/><circle cx="521.28" cy="304.36" r="1.25"/><circle cx="522.4" cy="305.46" r="1.25"/><circle cx="523.92" cy="305.08" r="1.25"/><circle cx="522.36" cy="308.88" r="1.25"/><circle cx="523.07" cy="308.62" r="1.25"/><circle cx="524.59" cy="308.71" r="1.25"/><circle cx="522.93" cy="305.75" r="1.25"/><circle cx="522.63" cy="308.74" r="1.25"/><circle cx="520.52" cy="308.8" r="1.25"/><circle cx="518.39" cy="308.93" r="1.25"/><circle cx="520.61" cy="308.41" r="1.25"/><circle cx="519.01" cy="307.24" r="1.25"/><circle cx="519.82" cy="307.33" r="1.25"/><circle cx="517.68" cy="307.71" r="1.25"/><circle cx="525.16" cy="308.28" r="1.25"/><circle cx="524.75" cy="308.54" r="1.25"/><circle cx="523.95" cy="309.04" r="1.25"/></g>
<circle cx="516" cy="300" r="1.3" fill="#9c9c9c"/>
<circle cx="520" cy="296" r="1.3" fill="#9c9c9c"/>
<circle cx="525" cy="297.2" r="1.3" fill="#9c9c9c"/>
<circle cx="518" cy="303" r="1.3" fill="#9c9c9c"/>
<path d="M527.1,319.2 L527.1,309.85 L527.83,309.56 L528.55,309.55 L529.27,309.65 L530,309.41 L530,305.94 L530.75,306.33 L531.5,306.35 L532.25,306 L533,306.26 L533.75,306.26 L534.5,306.33 L535.25,306.28 L536,306.12 L536,307.26 L536.76,307.7 L537.52,307.39 L538.28,307.58 L539.04,307.42 L539.8,307.52 L539.8,319.2Z" fill="#4d4d4d"/>
<g fill="#4d4d4d"><circle cx="528.1" cy="307.3" r="1.25"/><circle cx="528.72" cy="309.39" r="1.25"/><circle cx="529.05" cy="309" r="1.25"/><circle cx="529.03" cy="309.77" r="1.25"/><circle cx="529.09" cy="307.65" r="1.25"/><circle cx="531" cy="302.49" r="1.25"/><circle cx="532.91" cy="302.17" r="1.25"/><circle cx="534.62" cy="303.73" r="1.25"/><circle cx="533.79" cy="306.17" r="1.25"/><circle cx="534.05" cy="306.32" r="1.25"/><circle cx="531.93" cy="304.88" r="1.25"/><circle cx="530.99" cy="306.18" r="1.25"/><circle cx="531.76" cy="304.89" r="1.25"/><circle cx="534.97" cy="306.06" r="1.25"/><circle cx="533.39" cy="306.09" r="1.25"/><circle cx="533.42" cy="306.18" r="1.25"/><circle cx="537" cy="304.04" r="1.25"/><circle cx="538.07" cy="303.57" r="1.25"/><circle cx="537.11" cy="307.06" r="1.25"/><circle cx="538.86" cy="307.57" r="1.25"/><circle cx="537.44" cy="307.76" r="1.25"/><circle cx="537.24" cy="305.52" r="1.25"/><circle cx="537.5" cy="306.81" r="1.25"/></g>
<circle cx="534" cy="297.2" r="1.3" fill="#4d4d4d"/>
<path d="M540.6,319.2 L540.6,309.11 L541.42,308.97 L542.24,309.14 L543.06,308.76 L543.89,309.26 L544.71,308.91 L545.53,309.2 L546.35,308.72 L547.17,309.2 L547.99,308.84 L548.81,309.21 L549.64,309.18 L550.46,309.1 L551.28,308.87 L552.1,308.71 L552.1,319.2Z" fill="#9c9c9c"/>
<g fill="#9c9c9c"><circle cx="542.76" cy="306.1" r="1.25"/><circle cx="544.42" cy="305.34" r="1.25"/><circle cx="545.52" cy="306.62" r="1.25"/><circle cx="547.17" cy="305.96" r="1.25"/><circle cx="549.36" cy="306.59" r="1.25"/><circle cx="551.09" cy="305.27" r="1.25"/><circle cx="545.05" cy="308.64" r="1.25"/><circle cx="542.56" cy="307.74" r="1.25"/><circle cx="549.24" cy="307.89" r="1.25"/><circle cx="545.19" cy="309.25" r="1.25"/><circle cx="543.66" cy="307.51" r="1.25"/><circle cx="543.61" cy="308.23" r="1.25"/><circle cx="545.04" cy="308.95" r="1.25"/><circle cx="546.07" cy="309.48" r="1.25"/><circle cx="541.97" cy="309.01" r="1.25"/><circle cx="549.63" cy="307.69" r="1.25"/><circle cx="541.76" cy="308.4" r="1.25"/><circle cx="542.6" cy="308.46" r="1.25"/><circle cx="548.41" cy="306.97" r="1.25"/><circle cx="542.62" cy="308.52" r="1.25"/><circle cx="543.17" cy="307.67" r="1.25"/><circle cx="545.77" cy="307.13" r="1.25"/></g>
<circle cx="547" cy="293.2" r="1.3" fill="#9c9c9c"/>
<circle cx="547" cy="291.8" r="1.3" fill="#9c9c9c"/>
<circle cx="549" cy="298.6" r="1.3" fill="#9c9c9c"/>
<circle cx="546" cy="301" r="1.3" fill="#9c9c9c"/>
<path d="M552.9,319.2 L552.9,305.24 L553.67,305.42 L554.45,305.48 L555.23,305.76 L556,305.53 L556,307.24 L556.8,307.33 L557.6,307.65 L558.4,307.54 L559.2,307.72 L560,307.78 L560,305.71 L560.8,305.27 L561.6,305.77 L562.4,305.51 L563.2,305.34 L564,305.3 L564.8,305.72 L565.6,305.33 L565.6,319.2Z" fill="#4d4d4d"/>
<g fill="#4d4d4d"><circle cx="553.9" cy="301.68" r="1.25"/><circle cx="554.4" cy="305.67" r="1.25"/><circle cx="553.88" cy="304.94" r="1.25"/><circle cx="554.2" cy="304.06" r="1.25"/><circle cx="554.67" cy="304.65" r="1.25"/><circle cx="558.48" cy="303.84" r="1.25"/><circle cx="558.03" cy="304.88" r="1.25"/><circle cx="557.93" cy="307.69" r="1.25"/><circle cx="558.08" cy="306.19" r="1.25"/><circle cx="558" cy="307.36" r="1.25"/><circle cx="558.34" cy="305.77" r="1.25"/><circle cx="562.74" cy="302.92" r="1.25"/><circle cx="561.57" cy="304.16" r="1.25"/><circle cx="563.18" cy="306.05" r="1.25"/><circle cx="561.19" cy="304.11" r="1.25"/><circle cx="561.01" cy="304.9" r="1.25"/><circle cx="561.42" cy="304" r="1.25"/><circle cx="563.76" cy="305.3" r="1.25"/><circle cx="564.49" cy="304.79" r="1.25"/></g>
<circle cx="557.5" cy="293" r="1.3" fill="#4d4d4d"/>
<circle cx="557" cy="296.7" r="1.3" fill="#4d4d4d"/>
<circle cx="561" cy="296" r="1.3" fill="#4d4d4d"/>
<circle cx="563.5" cy="298.1" r="1.3" fill="#4d4d4d"/>
<circle cx="565" cy="300" r="1.3" fill="#4d4d4d"/>
<circle cx="554" cy="297.4" r="1.3" fill="#4d4d4d"/>
<path d="M566.6,319.2 L566.6,306.91 L567.41,306.51 L568.21,307.07 L569.02,306.64 L569.83,306.79 L570.63,306.81 L571.44,307.07 L572.25,306.8 L573.05,307.1 L573.86,306.87 L574.67,306.63 L575.47,307 L576.28,306.62 L577.09,307.1 L577.89,306.77 L578.7,306.64 L578.7,319.2Z" fill="#9c9c9c"/>
<g fill="#9c9c9c"><circle cx="567.6" cy="304.39" r="1.25"/><circle cx="569.01" cy="303.4" r="1.25"/><circle cx="570.03" cy="303.45" r="1.25"/><circle cx="571.86" cy="302.85" r="1.25"/><circle cx="573.12" cy="303.58" r="1.25"/><circle cx="574.83" cy="303.07" r="1.25"/><circle cx="575.95" cy="304.39" r="1.25"/><circle cx="577.09" cy="303.69" r="1.25"/><circle cx="568.06" cy="305.49" r="1.25"/><circle cx="569.21" cy="306.61" r="1.25"/><circle cx="572.16" cy="306.11" r="1.25"/><circle cx="576.67" cy="306.8" r="1.25"/><circle cx="576.38" cy="307.46" r="1.25"/><circle cx="570.26" cy="307.43" r="1.25"/><circle cx="571.7" cy="304.46" r="1.25"/><circle cx="576.94" cy="304.84" r="1.25"/><circle cx="567.66" cy="305.7" r="1.25"/><circle cx="570.47" cy="307.48" r="1.25"/><circle cx="576.48" cy="306.14" r="1.25"/><circle cx="572.95" cy="307.24" r="1.25"/><circle cx="575.83" cy="306.78" r="1.25"/><circle cx="572.78" cy="304.92" r="1.25"/><circle cx="570" cy="306.79" r="1.25"/><circle cx="573.54" cy="307.13" r="1.25"/></g>
<circle cx="568" cy="287.9" r="1.3" fill="#9c9c9c"/>
<circle cx="568" cy="289" r="1.3" fill="#9c9c9c"/>
<circle cx="570" cy="298.1" r="1.3" fill="#9c9c9c"/>
<circle cx="572" cy="298.6" r="1.3" fill="#9c9c9c"/>
<circle cx="575" cy="300.2" r="1.3" fill="#9c9c9c"/>
<path d="M580.4,319.2 L580.4,307.74 L581.2,307.78 L582,307.32 L582,309.45 L582.75,309.94 L583.5,309.74 L584.25,309.51 L585,309.82 L585,310.25 L585.85,310.24 L586.7,310.32 L587.55,310.41 L588.4,310.51 L589.25,310.14 L590.1,310.54 L590.1,319.2Z" fill="#4d4d4d"/>
<g fill="#4d4d4d"><circle cx="581.27" cy="307" r="1.25"/><circle cx="581.27" cy="307.83" r="1.25"/><circle cx="583" cy="305.77" r="1.25"/><circle cx="583.76" cy="309.67" r="1.25"/><circle cx="583.1" cy="310.37" r="1.25"/><circle cx="583.86" cy="308.38" r="1.25"/><circle cx="583.41" cy="310.36" r="1.25"/><circle cx="586" cy="306.78" r="1.25"/><circle cx="587.96" cy="307.89" r="1.25"/><circle cx="587.08" cy="310.41" r="1.25"/><circle cx="588.44" cy="308.58" r="1.25"/><circle cx="586.62" cy="309" r="1.25"/><circle cx="586.77" cy="307.91" r="1.25"/><circle cx="586.33" cy="309.7" r="1.25"/><circle cx="587.28" cy="308.27" r="1.25"/><circle cx="587.83" cy="311.03" r="1.25"/></g>
<circle cx="582.5" cy="297.4" r="1.3" fill="#4d4d4d"/>
<circle cx="582" cy="301.6" r="1.3" fill="#4d4d4d"/>
<circle cx="588" cy="300.2" r="1.3" fill="#4d4d4d"/>
<path d="M591.8,319.2 L591.8,306.15 L592.57,306.01 L593.35,306.22 L594.12,306.06 L594.9,305.91 L595.67,306.09 L596.45,305.81 L597.23,306.21 L598,305.9 L598.77,306.02 L599.55,306.38 L600.33,306.26 L601.1,306.3 L601.1,319.2Z" fill="#9c9c9c"/>
<g fill="#9c9c9c"><circle cx="592.8" cy="303.18" r="1.25"/><circle cx="594.5" cy="303.7" r="1.25"/><circle cx="596.27" cy="302.63" r="1.25"/><circle cx="599.97" cy="303.09" r="1.25"/><circle cx="596.71" cy="306.26" r="1.25"/><circle cx="594.73" cy="303.91" r="1.25"/><circle cx="592.71" cy="304.51" r="1.25"/><circle cx="597.93" cy="303.1" r="1.25"/><circle cx="594.41" cy="304.91" r="1.25"/><circle cx="598.04" cy="306.82" r="1.25"/><circle cx="592.82" cy="304.2" r="1.25"/><circle cx="599.73" cy="306.79" r="1.25"/><circle cx="593.8" cy="305.17" r="1.25"/><circle cx="596.62" cy="305.11" r="1.25"/><circle cx="595.83" cy="305.62" r="1.25"/><circle cx="594.63" cy="303.79" r="1.25"/><circle cx="593.31" cy="304.46" r="1.25"/></g>
<circle cx="593.5" cy="296" r="1.3" fill="#9c9c9c"/>
<path d="M602.9,319.2 L602.9,310.85 L603.67,311.17 L604.45,311.22 L605.23,310.96 L606,311.28 L606,306.24 L606.85,306.01 L607.7,306.1 L608.55,305.91 L609.4,306.36 L610.25,306.14 L611.1,305.83 L611.1,319.2Z" fill="#4d4d4d"/>
<g fill="#4d4d4d"><circle cx="603.9" cy="307.4" r="1.25"/><circle cx="604.74" cy="309.77" r="1.25"/><circle cx="604.85" cy="311.43" r="1.25"/><circle cx="603.9" cy="310.91" r="1.25"/><circle cx="604.03" cy="311.22" r="1.25"/><circle cx="607" cy="303.44" r="1.25"/><circle cx="608.23" cy="302.3" r="1.25"/><circle cx="609.8" cy="302.37" r="1.25"/><circle cx="607.24" cy="306.03" r="1.25"/><circle cx="607.68" cy="304.88" r="1.25"/><circle cx="608.29" cy="305.77" r="1.25"/><circle cx="609.3" cy="303.55" r="1.25"/><circle cx="609.3" cy="304.73" r="1.25"/><circle cx="607.85" cy="306.05" r="1.25"/><circle cx="609.19" cy="305.99" r="1.25"/></g>
<circle cx="605.5" cy="286.9" r="1.3" fill="#4d4d4d"/>
<circle cx="607.5" cy="296.7" r="1.3" fill="#4d4d4d"/>
<path d="M612,319.2 L612,307.04 L612.77,306.62 L613.53,306.69 L614.3,306.9 L615.07,306.66 L615.83,306.59 L616.6,306.64 L617.37,306.96 L618.13,307 L618.9,306.93 L619.67,307.08 L620.43,306.98 L621.2,306.69 L621.2,319.2Z" fill="#9c9c9c"/>
<g fill="#9c9c9c"><circle cx="613" cy="303.35" r="1.25"/><circle cx="614.06" cy="303.82" r="1.25"/><circle cx="615.1" cy="303.67" r="1.25"/><circle cx="617.04" cy="304.25" r="1.25"/><circle cx="618.23" cy="303.04" r="1.25"/><circle cx="619.76" cy="303.43" r="1.25"/><circle cx="618.65" cy="304.85" r="1.25"/><circle cx="613.4" cy="306.04" r="1.25"/><circle cx="616.48" cy="305.56" r="1.25"/><circle cx="617.86" cy="305.43" r="1.25"/><circle cx="615.25" cy="306.31" r="1.25"/><circle cx="618.18" cy="307.06" r="1.25"/><circle cx="615.64" cy="306.22" r="1.25"/><circle cx="619.79" cy="307.42" r="1.25"/><circle cx="617.48" cy="304.85" r="1.25"/><circle cx="616.27" cy="306.74" r="1.25"/><circle cx="614.95" cy="304.32" r="1.25"/><circle cx="620.18" cy="307.37" r="1.25"/></g>
<circle cx="613" cy="297.7" r="1.3" fill="#9c9c9c"/>
<circle cx="615.5" cy="294.6" r="1.3" fill="#9c9c9c"/>
<circle cx="618.5" cy="294.6" r="1.3" fill="#9c9c9c"/>
<circle cx="619.5" cy="291.8" r="1.3" fill="#9c9c9c"/>
<circle cx="614" cy="300.2" r="1.3" fill="#9c9c9c"/>
<path d="M621.7,319.2 L621.7,305.88 L622.54,306.08 L623.38,306.17 L624.22,305.98 L625.06,305.84 L625.9,306.25 L626.74,306.26 L627.58,306.06 L628.42,305.85 L629.26,306.04 L630.1,305.86 L630.1,319.2Z" fill="#4d4d4d"/>
<g fill="#4d4d4d"><circle cx="622.7" cy="303.69" r="1.25"/><circle cx="623.99" cy="303.38" r="1.25"/><circle cx="625.09" cy="302.26" r="1.25"/><circle cx="626.63" cy="303.48" r="1.25"/><circle cx="627.8" cy="303.37" r="1.25"/><circle cx="623.39" cy="304.82" r="1.25"/><circle cx="629.04" cy="304.22" r="1.25"/><circle cx="624.3" cy="306.29" r="1.25"/><circle cx="628.51" cy="306.65" r="1.25"/><circle cx="625.72" cy="306.76" r="1.25"/><circle cx="626.59" cy="305" r="1.25"/><circle cx="625.67" cy="306.23" r="1.25"/><circle cx="627.46" cy="304.29" r="1.25"/><circle cx="623.86" cy="306.77" r="1.25"/><circle cx="623.29" cy="306.46" r="1.25"/><circle cx="624.83" cy="304.84" r="1.25"/></g>
<circle cx="623.5" cy="291.1" r="1.3" fill="#4d4d4d"/>
<circle cx="627.5" cy="293.5" r="1.3" fill="#4d4d4d"/>
<circle cx="623" cy="298.8" r="1.3" fill="#4d4d4d"/>
<circle cx="628.5" cy="296.7" r="1.3" fill="#4d4d4d"/>
<circle cx="629.5" cy="298.8" r="1.3" fill="#4d4d4d"/>
<path d="M630.8,319.2 L630.8,308.85 L631.53,308.98 L632.27,309.29 L633,308.79 L633,307.71 L633.79,307.39 L634.57,307.3 L635.36,307.65 L636.14,307.4 L636.93,307.31 L637.71,307.45 L638.5,307.69 L638.5,319.2Z" fill="#9c9c9c"/>
<g fill="#9c9c9c"><circle cx="631.8" cy="306.43" r="1.25"/><circle cx="632.02" cy="308.87" r="1.25"/><circle cx="632.08" cy="309.65" r="1.25"/><circle cx="631.82" cy="309.43" r="1.25"/><circle cx="634" cy="304.86" r="1.25"/><circle cx="635.37" cy="304.15" r="1.25"/><circle cx="636.74" cy="303.73" r="1.25"/><circle cx="635.41" cy="307.44" r="1.25"/><circle cx="637.2" cy="307.73" r="1.25"/><circle cx="634.79" cy="308.09" r="1.25"/><circle cx="636.89" cy="308.23" r="1.25"/><circle cx="636.61" cy="307.73" r="1.25"/><circle cx="636.92" cy="306.26" r="1.25"/><circle cx="636.33" cy="306.72" r="1.25"/></g>
<circle cx="636" cy="296.7" r="1.3" fill="#9c9c9c"/>
<circle cx="637" cy="301.4" r="1.3" fill="#9c9c9c"/>
<path d="M639.2,319.2 L639.2,303.2 L640.13,302.78 L641.07,303.02 L642,302.9 L642,301.99 L642.78,301.71 L643.56,302.01 L644.34,302.01 L645.12,302.03 L645.9,301.58 L645.9,319.2Z" fill="#4d4d4d"/>
<g fill="#4d4d4d"><circle cx="640.2" cy="300.55" r="1.25"/><circle cx="640.76" cy="300.63" r="1.25"/><circle cx="640.99" cy="302.71" r="1.25"/><circle cx="640.55" cy="302.08" r="1.25"/><circle cx="643" cy="299.1" r="1.25"/><circle cx="644.87" cy="298.19" r="1.25"/><circle cx="643.09" cy="300.84" r="1.25"/><circle cx="642.93" cy="302.12" r="1.25"/><circle cx="643.36" cy="299.61" r="1.25"/><circle cx="643.02" cy="301.99" r="1.25"/><circle cx="643.3" cy="301.27" r="1.25"/></g>
<circle cx="643.5" cy="286.1" r="1.3" fill="#4d4d4d"/>
<circle cx="643.5" cy="292.9" r="1.3" fill="#4d4d4d"/>
<circle cx="640.5" cy="296.5" r="1.3" fill="#4d4d4d"/>
<circle cx="644.5" cy="294.4" r="1.3" fill="#4d4d4d"/>
<circle cx="640" cy="295.8" r="1.3" fill="#4d4d4d"/>
<path d="M646.7,319.2 L646.7,309.04 L647.54,309.28 L648.38,309.37 L649.21,308.99 L650.05,309.18 L650.89,309.34 L651.73,309.08 L652.56,309.34 L653.4,309.24 L653.4,319.2Z" fill="#9c9c9c"/>
<g fill="#9c9c9c"><circle cx="649.27" cy="305.32" r="1.25"/><circle cx="651.1" cy="305.98" r="1.25"/><circle cx="651.93" cy="309.11" r="1.25"/><circle cx="648.6" cy="308.26" r="1.25"/><circle cx="649.37" cy="309.77" r="1.25"/><circle cx="651.02" cy="307.26" r="1.25"/><circle cx="652.1" cy="306.6" r="1.25"/><circle cx="650.5" cy="308.48" r="1.25"/><circle cx="651.13" cy="308.47" r="1.25"/><circle cx="648.03" cy="308.74" r="1.25"/><circle cx="651.64" cy="309.4" r="1.25"/></g>
<circle cx="648" cy="299.2" r="1.3" fill="#9c9c9c"/>
<circle cx="650.2" cy="300" r="1.3" fill="#9c9c9c"/>
<circle cx="652.5" cy="301" r="1.3" fill="#9c9c9c"/>
<circle cx="648" cy="301.5" r="1.3" fill="#9c9c9c"/>
<path d="M655.1,319.2 L655.1,310.41 L656.3,310.33 L656.3,302.65 L657.25,302.68 L658.2,302.33 L658.2,310.23 L659.3,310.3 L659.3,319.2Z" fill="#4d4d4d"/>
<g fill="#4d4d4d"><circle cx="655.98" cy="309.72" r="1.25"/><circle cx="657.28" cy="303.11" r="1.25"/><circle cx="657.21" cy="301.45" r="1.25"/><circle cx="659.08" cy="310.17" r="1.25"/></g>
<circle cx="657.3" cy="297.5" r="1.3" fill="#4d4d4d"/>
<circle cx="657.3" cy="301" r="1.3" fill="#4d4d4d"/>
<path d="M661.2,319.2 L661.2,308.91 L661.95,309.13 L662.7,309.1 L663.45,309.2 L664.2,308.89 L664.95,309.37 L665.7,309.4 L665.7,319.2Z" fill="#9c9c9c"/>
<g fill="#9c9c9c"><circle cx="662.2" cy="306.05" r="1.25"/><circle cx="663.38" cy="306.61" r="1.25"/><circle cx="664.46" cy="308.26" r="1.25"/><circle cx="664.62" cy="307.67" r="1.25"/><circle cx="662.14" cy="308.69" r="1.25"/><circle cx="664.55" cy="309.65" r="1.25"/><circle cx="664.7" cy="308.71" r="1.25"/><circle cx="664.64" cy="308.84" r="1.25"/></g>
<circle cx="663" cy="297.9" r="1.3" fill="#9c9c9c"/>
<circle cx="663" cy="301.5" r="1.3" fill="#9c9c9c"/>
<path d="M666.2,319.2 L666.2,310.69 L667.1,310.98 L668,311.08 L668,309.05 L668.8,309.16 L669.6,308.96 L670.4,308.97 L671.2,309.05 L672,309.11 L672,310.88 L672.77,310.66 L673.55,310.6 L674.32,310.8 L675.09,311.03 L675.86,311.05 L676.64,310.74 L677.41,310.75 L678.18,310.91 L678.95,310.71 L679.73,310.96 L680.5,311.14 L680.5,319.2Z" fill="#4d4d4d"/>
<g fill="#4d4d4d"><circle cx="667.09" cy="310.71" r="1.25"/><circle cx="667.11" cy="311.11" r="1.25"/><circle cx="669" cy="306.29" r="1.25"/><circle cx="671" cy="308.51" r="1.25"/><circle cx="669.07" cy="306.91" r="1.25"/><circle cx="670.67" cy="309.14" r="1.25"/><circle cx="669.19" cy="308.56" r="1.25"/><circle cx="670.31" cy="309.85" r="1.25"/><circle cx="673" cy="307.49" r="1.25"/><circle cx="674.25" cy="307.27" r="1.25"/><circle cx="675.66" cy="307.94" r="1.25"/><circle cx="676.82" cy="307.3" r="1.25"/><circle cx="678.01" cy="307.46" r="1.25"/><circle cx="679.19" cy="307.72" r="1.25"/><circle cx="676.16" cy="311.54" r="1.25"/><circle cx="676.06" cy="309.43" r="1.25"/><circle cx="676.87" cy="309.17" r="1.25"/><circle cx="674.02" cy="308.73" r="1.25"/><circle cx="677.61" cy="311.58" r="1.25"/><circle cx="675.6" cy="310.03" r="1.25"/><circle cx="675.74" cy="310.02" r="1.25"/><circle cx="677.54" cy="310.15" r="1.25"/><circle cx="673.9" cy="311.37" r="1.25"/><circle cx="676.74" cy="307.97" r="1.25"/><circle cx="678.61" cy="311.06" r="1.25"/></g>
<circle cx="671" cy="297" r="1.3" fill="#4d4d4d"/>
<circle cx="677" cy="298.7" r="1.3" fill="#4d4d4d"/>
<circle cx="679" cy="301" r="1.3" fill="#4d4d4d"/>
<circle cx="673.5" cy="301.9" r="1.3" fill="#4d4d4d"/>
<circle cx="676" cy="303.3" r="1.3" fill="#4d4d4d"/>
<circle cx="682.5" cy="315.9" r="1" fill="#9c9c9c"/>
<circle cx="662.1" cy="208.8" r="2.3" fill="#e1191f"/>
<line x1="644" y1="214.2" x2="659.8" y2="209.5" stroke="#999" stroke-width="0.5" />
<rect x="603" y="240.1" width="4.4" height="4.4" fill="#e1191f"/>
<line x1="597.5" y1="233.5" x2="603" y2="240" stroke="#999" stroke-width="0.5" />
<text transform="translate(613,217.4) scale(0.875,1)" font-size="9.6" font-weight="normal" font-style="italic" text-anchor="start" fill="#231f20"  stroke="#231f20" stroke-width="0.3">RIMBP3</text>
<text transform="translate(558.3,233.7) scale(0.875,1)" font-size="9.6" font-weight="normal" font-style="italic" text-anchor="start" fill="#231f20"  stroke="#231f20" stroke-width="0.3">GOLGA8B</text>
</svg></body></html>
